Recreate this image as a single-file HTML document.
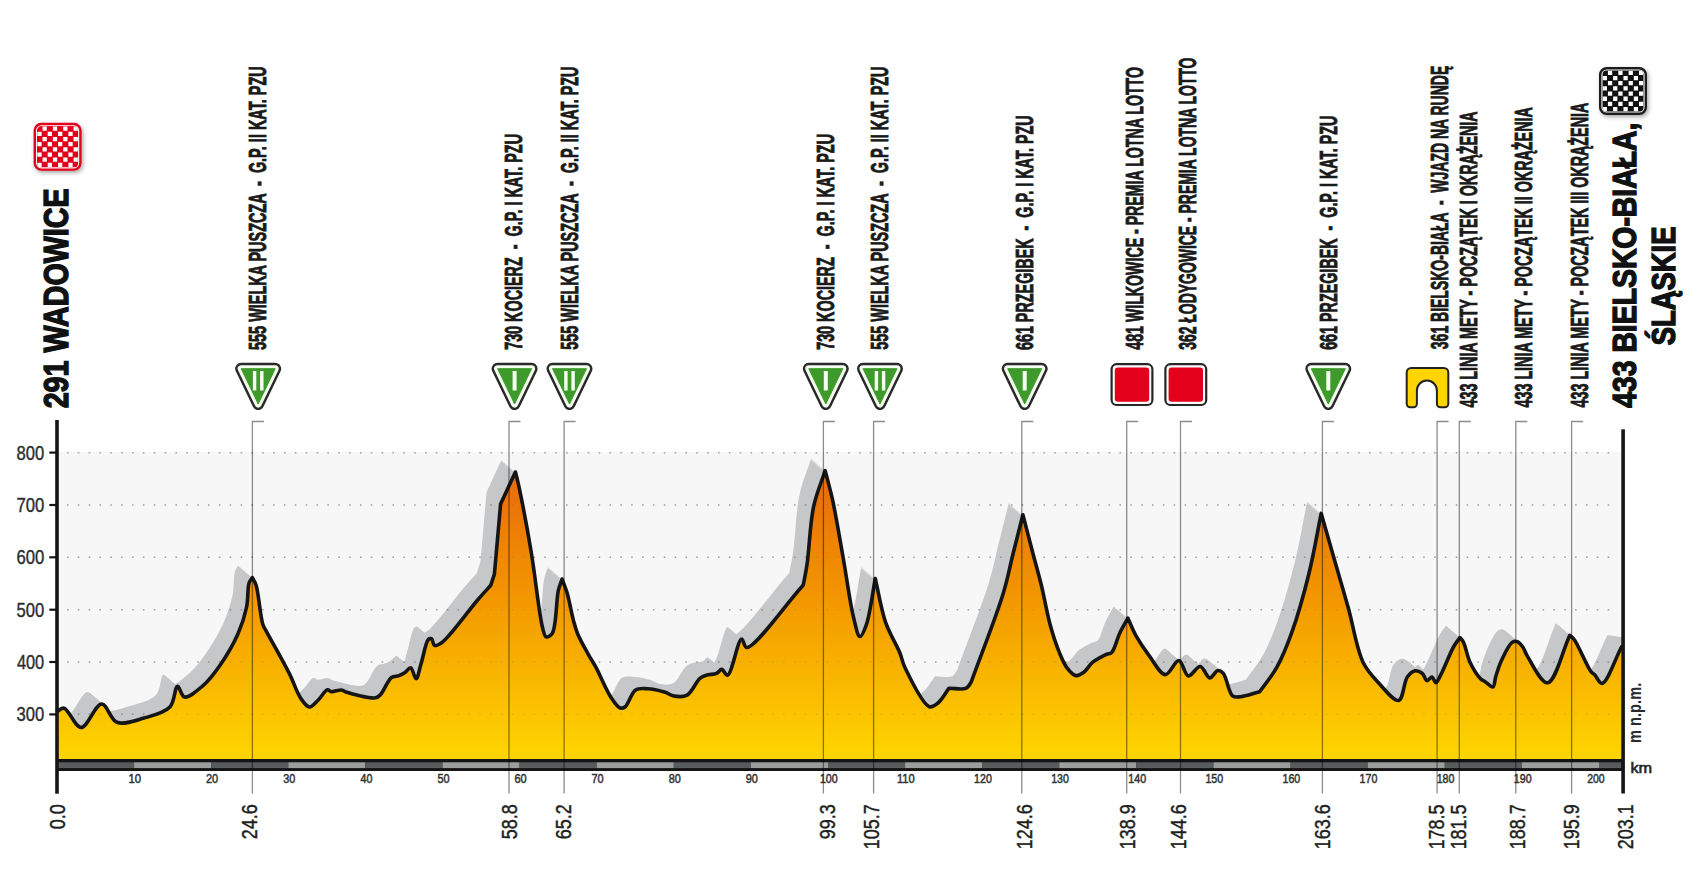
<!DOCTYPE html>
<html><head><meta charset="utf-8"><style>html,body{margin:0;padding:0;background:#fff;width:1702px;height:894px;overflow:hidden}</style></head>
<body>
<svg width="1702" height="894" viewBox="0 0 1702 894" style="position:absolute;left:0;top:0;font-family:'Liberation Sans',sans-serif">
<defs>
<linearGradient id="gfill" gradientUnits="userSpaceOnUse" x1="0" y1="470" x2="0" y2="760">
<stop offset="0" stop-color="#e8680b"/>
<stop offset="0.45" stop-color="#f39800"/>
<stop offset="1" stop-color="#ffd600"/>
</linearGradient>
<clipPath id="chartclip"><rect x="66" y="430" width="1556" height="330"/></clipPath>
<filter id="dsh" x="-30%" y="-30%" width="160%" height="160%"><feDropShadow dx="1.5" dy="2" stdDeviation="2" flood-color="#000" flood-opacity="0.35"/></filter>
</defs>
<rect x="0" y="0" width="1702" height="894" fill="#fff"/>
<rect x="57" y="452.2" width="1565" height="307" fill="#f7f7f7"/>
<defs><path id="prof" d="M57,759 L57.5,711.0 C59.7,710.1 61.6,707.6 64.1,708.2 C68.8,709.3 75.2,727.5 81.1,727.5 C87.6,727.5 95.4,703.9 101.7,704.0 C107.2,704.1 110.3,719.8 117.0,722.3 C124.2,725.0 135.2,720.6 144.0,718.1 C152.9,715.5 164.3,712.9 169.9,707.0 C174.8,701.8 174.7,686.7 177.5,686.4 C179.7,686.2 181.1,696.3 184.5,697.0 C188.9,698.0 197.1,690.7 202.8,685.8 C209.2,680.3 214.9,672.7 220.4,664.7 C226.7,655.6 233.5,643.9 238.0,633.7 C242.0,624.7 244.8,615.7 246.6,607.0 C248.3,599.0 247.4,588.4 249.0,583.3 C249.9,580.6 251.2,579.5 252.3,577.6 C253.6,580.1 254.9,581.6 256.1,585.2 C258.7,593.1 260.2,616.3 262.8,624.2 C264.0,627.8 265.3,629.3 266.6,631.8 C274.2,645.7 283.3,661.4 289.4,673.6 C294.0,682.9 296.7,692.5 300.8,698.4 C303.5,702.3 306.5,706.8 309.4,707.0 C312.2,707.2 315.2,702.9 318.0,700.3 C321.2,697.3 324.9,690.3 327.5,689.8 C328.9,689.5 329.7,691.5 331.3,691.7 C333.9,692.1 339.0,689.6 341.7,690.0 C343.5,690.2 343.9,691.3 346.0,692.0 C351.4,693.8 369.9,698.8 375.5,697.8 C378.0,697.3 378.7,696.4 380.4,694.7 C383.7,691.4 387.6,680.3 391.5,677.5 C393.9,675.8 396.6,676.5 398.9,675.6 C401.1,674.8 403.1,673.9 405.0,672.6 C407.0,671.3 408.9,667.4 410.6,667.7 C412.8,668.1 414.4,678.8 416.1,678.7 C418.0,678.6 419.2,669.5 421.0,664.0 C423.3,656.9 425.6,642.0 428.4,639.4 C429.4,638.5 430.6,638.3 431.5,638.7 C432.9,639.4 432.9,644.8 434.6,645.5 C436.4,646.2 439.5,644.1 442.0,642.4 C445.6,639.9 448.7,635.7 453.0,630.8 C459.7,623.1 470.6,608.3 477.6,600.0 C482.6,594.1 486.4,590.1 490.8,585.2 C492.0,581.5 493.2,577.8 494.4,574.1 C496.5,550.7 498.5,527.4 500.6,504.0 C505.5,493.3 510.5,482.7 515.4,472.0 C516.6,476.9 517.6,480.1 519.0,486.8 C522.0,501.0 527.6,530.4 531.4,553.2 C535.4,577.1 539.0,613.9 542.4,627.0 C543.7,631.9 544.2,636.2 546.1,636.9 C547.7,637.5 550.6,635.8 552.3,633.2 C556.5,626.9 556.1,599.7 558.4,590.1 C559.6,585.1 560.9,582.7 562.1,579.0 C563.7,583.5 565.4,587.2 567.0,592.6 C569.2,600.0 571.2,612.0 573.2,619.6 C574.7,625.2 575.6,628.9 577.7,634.0 C580.3,640.2 584.7,647.9 588.0,653.8 C590.7,658.7 592.8,661.6 595.7,666.9 C600.1,674.9 606.3,690.4 611.2,697.7 C614.3,702.3 617.4,707.1 620.2,708.0 C622.0,708.5 623.6,708.0 625.3,706.7 C628.6,704.2 631.3,692.7 635.6,690.0 C638.9,687.9 642.9,688.5 647.2,688.7 C652.6,688.9 660.5,690.8 665.2,692.3 C668.4,693.3 669.9,695.2 672.9,695.8 C676.8,696.6 682.8,697.4 687.0,695.2 C692.1,692.5 696.0,681.6 699.9,678.4 C702.2,676.5 703.8,676.0 706.3,675.2 C709.3,674.2 713.9,674.5 716.6,673.3 C718.7,672.4 720.0,669.3 721.7,669.4 C723.6,669.5 725.5,675.6 727.5,675.2 C731.9,674.3 737.8,639.3 741.6,639.0 C743.5,638.8 743.8,647.2 746.7,647.5 C755.2,648.3 784.4,605.8 803.3,585.0 C804.6,577.7 805.9,572.2 807.2,563.2 C809.3,548.8 810.0,523.2 813.6,506.6 C816.5,493.1 821.3,482.6 825.2,470.6 C827.8,480.9 830.3,489.5 832.9,501.4 C836.3,517.4 839.8,538.9 843.2,558.0 C846.7,577.5 849.9,603.0 853.5,617.2 C855.6,625.5 857.5,636.3 859.9,636.5 C861.8,636.7 864.4,630.3 866.3,624.9 C870.0,614.8 872.3,594.0 875.3,578.6 C878.7,593.2 881.1,609.2 885.6,622.3 C889.6,633.7 896.6,644.8 900.0,653.2 C902.2,658.7 902.1,661.6 904.8,667.3 C909.6,677.3 922.5,704.5 929.4,706.7 C932.5,707.7 935.2,705.2 938.0,703.0 C941.9,699.9 945.3,693.1 949.0,688.2 C954.8,688.2 962.5,690.0 966.3,688.2 C968.8,687.0 969.6,684.1 971.2,682.1 C981.9,652.6 996.0,617.3 1003.2,593.5 C1008.0,577.9 1009.7,567.1 1013.0,554.0 C1016.3,540.9 1019.6,527.9 1022.9,514.8 C1026.1,527.0 1029.3,539.6 1032.4,551.5 C1035.4,562.9 1038.4,573.3 1041.3,585.0 C1044.4,597.8 1047.0,613.3 1050.3,625.3 C1053.0,635.2 1056.0,644.4 1059.2,652.1 C1061.7,658.1 1063.8,663.7 1067.0,667.8 C1069.6,671.2 1073.0,675.1 1076.0,675.6 C1078.6,676.0 1081.3,674.1 1083.8,672.3 C1087.0,670.0 1089.2,665.1 1092.8,662.2 C1096.7,659.1 1102.9,656.1 1106.4,654.4 C1108.5,653.4 1110.1,654.0 1111.7,652.4 C1114.9,649.3 1116.9,639.0 1119.8,633.0 C1122.4,627.7 1125.2,623.1 1127.9,618.2 C1130.6,624.0 1132.6,629.7 1135.9,635.6 C1139.6,642.2 1144.4,649.3 1149.3,655.8 C1154.2,662.3 1160.2,674.5 1165.4,674.6 C1170.0,674.7 1175.0,660.1 1178.9,660.5 C1182.6,660.9 1184.5,675.2 1188.3,675.9 C1191.8,676.5 1196.7,666.1 1200.3,666.5 C1203.8,666.9 1206.6,677.7 1209.7,677.9 C1212.4,678.1 1215.3,670.9 1217.8,670.5 C1219.7,670.2 1221.5,671.4 1223.2,673.2 C1226.7,676.9 1228.5,693.0 1232.6,696.0 C1234.9,697.7 1237.4,697.0 1240.6,696.7 C1245.6,696.3 1253.3,693.4 1259.7,691.8 C1265.4,683.6 1271.8,676.4 1276.9,667.2 C1282.6,656.9 1287.0,645.9 1291.7,632.7 C1297.8,615.8 1304.0,593.6 1308.9,573.7 C1313.8,553.8 1317.1,533.5 1321.2,513.4 C1325.3,527.7 1329.2,541.4 1333.5,556.4 C1338.2,572.8 1343.4,590.7 1348.3,608.1 C1353.3,625.9 1356.6,649.0 1363.0,662.2 C1367.3,670.9 1372.1,675.8 1377.8,682.0 C1383.9,688.6 1393.8,701.7 1398.7,700.4 C1403.4,699.2 1403.7,682.0 1407.3,677.0 C1409.5,673.9 1412.1,671.4 1414.7,670.9 C1417.1,670.5 1420.1,671.8 1422.1,673.3 C1424.3,674.9 1425.2,680.4 1427.0,680.7 C1428.5,681.0 1430.5,676.7 1432.0,677.0 C1433.5,677.3 1434.6,682.8 1435.9,682.8 C1437.4,682.8 1438.8,678.6 1440.6,675.2 C1444.0,668.8 1449.7,653.8 1453.5,647.0 C1455.8,642.9 1457.8,640.7 1460.0,637.6 C1461.2,639.2 1462.3,640.1 1463.5,642.3 C1465.7,646.5 1467.1,656.1 1470.0,662.3 C1472.8,668.2 1477.4,675.6 1480.5,678.7 C1482.2,680.4 1483.5,680.5 1485.2,681.7 C1487.5,683.2 1491.1,687.6 1492.9,687.0 C1494.8,686.3 1494.6,680.3 1495.8,676.4 C1497.3,671.5 1499.1,665.4 1501.7,660.0 C1504.5,654.1 1508.8,644.5 1512.3,642.3 C1514.0,641.2 1515.9,641.1 1517.5,641.7 C1519.4,642.4 1521.2,644.8 1522.8,647.0 C1524.7,649.6 1525.1,652.6 1527.5,656.4 C1531.7,663.1 1541.2,683.5 1547.5,682.8 C1555.5,682.0 1562.4,651.1 1569.8,635.3 C1571.4,636.9 1572.7,637.5 1574.5,640.0 C1578.7,645.7 1587.1,666.9 1591.0,671.7 C1592.4,673.4 1593.2,673.3 1594.5,674.6 C1596.6,676.7 1599.3,683.7 1602.1,683.4 C1607.5,682.8 1615.0,659.1 1621.5,647.0 L1640,650 L1640,759 Z"/></defs>
<g clip-path="url(#chartclip)" fill="#c6c7c9">
<use href="#prof" transform="translate(-1.00,-0.86)"/>
<use href="#prof" transform="translate(-2.00,-1.71)"/>
<use href="#prof" transform="translate(-3.00,-2.57)"/>
<use href="#prof" transform="translate(-4.00,-3.43)"/>
<use href="#prof" transform="translate(-5.00,-4.29)"/>
<use href="#prof" transform="translate(-6.00,-5.14)"/>
<use href="#prof" transform="translate(-7.00,-6.00)"/>
<use href="#prof" transform="translate(-8.00,-6.86)"/>
<use href="#prof" transform="translate(-9.00,-7.71)"/>
<use href="#prof" transform="translate(-10.00,-8.57)"/>
<use href="#prof" transform="translate(-11.00,-9.43)"/>
<use href="#prof" transform="translate(-12.00,-10.29)"/>
<use href="#prof" transform="translate(-13.00,-11.14)"/>
<use href="#prof" transform="translate(-14.00,-12.00)"/>
</g>
<path d="M67.0,451.9h1.5v1.5h-1.5zM77.8,451.9h1.5v1.5h-1.5zM88.7,451.9h1.5v1.5h-1.5zM99.5,451.9h1.5v1.5h-1.5zM110.4,451.9h1.5v1.5h-1.5zM121.2,451.9h1.5v1.5h-1.5zM132.1,451.9h1.5v1.5h-1.5zM142.9,451.9h1.5v1.5h-1.5zM153.8,451.9h1.5v1.5h-1.5zM164.6,451.9h1.5v1.5h-1.5zM175.5,451.9h1.5v1.5h-1.5zM186.3,451.9h1.5v1.5h-1.5zM197.2,451.9h1.5v1.5h-1.5zM208.0,451.9h1.5v1.5h-1.5zM218.9,451.9h1.5v1.5h-1.5zM229.7,451.9h1.5v1.5h-1.5zM240.6,451.9h1.5v1.5h-1.5zM251.4,451.9h1.5v1.5h-1.5zM262.3,451.9h1.5v1.5h-1.5zM273.1,451.9h1.5v1.5h-1.5zM284.0,451.9h1.5v1.5h-1.5zM294.8,451.9h1.5v1.5h-1.5zM305.7,451.9h1.5v1.5h-1.5zM316.6,451.9h1.5v1.5h-1.5zM327.4,451.9h1.5v1.5h-1.5zM338.3,451.9h1.5v1.5h-1.5zM349.1,451.9h1.5v1.5h-1.5zM360.0,451.9h1.5v1.5h-1.5zM370.8,451.9h1.5v1.5h-1.5zM381.7,451.9h1.5v1.5h-1.5zM392.5,451.9h1.5v1.5h-1.5zM403.4,451.9h1.5v1.5h-1.5zM414.2,451.9h1.5v1.5h-1.5zM425.1,451.9h1.5v1.5h-1.5zM435.9,451.9h1.5v1.5h-1.5zM446.8,451.9h1.5v1.5h-1.5zM457.6,451.9h1.5v1.5h-1.5zM468.5,451.9h1.5v1.5h-1.5zM479.3,451.9h1.5v1.5h-1.5zM490.2,451.9h1.5v1.5h-1.5zM501.0,451.9h1.5v1.5h-1.5zM511.9,451.9h1.5v1.5h-1.5zM522.7,451.9h1.5v1.5h-1.5zM533.6,451.9h1.5v1.5h-1.5zM544.4,451.9h1.5v1.5h-1.5zM555.3,451.9h1.5v1.5h-1.5zM566.1,451.9h1.5v1.5h-1.5zM577.0,451.9h1.5v1.5h-1.5zM587.8,451.9h1.5v1.5h-1.5zM598.7,451.9h1.5v1.5h-1.5zM609.5,451.9h1.5v1.5h-1.5zM620.4,451.9h1.5v1.5h-1.5zM631.2,451.9h1.5v1.5h-1.5zM642.1,451.9h1.5v1.5h-1.5zM652.9,451.9h1.5v1.5h-1.5zM663.8,451.9h1.5v1.5h-1.5zM674.6,451.9h1.5v1.5h-1.5zM685.5,451.9h1.5v1.5h-1.5zM696.3,451.9h1.5v1.5h-1.5zM707.2,451.9h1.5v1.5h-1.5zM718.0,451.9h1.5v1.5h-1.5zM728.9,451.9h1.5v1.5h-1.5zM739.7,451.9h1.5v1.5h-1.5zM750.6,451.9h1.5v1.5h-1.5zM761.4,451.9h1.5v1.5h-1.5zM772.3,451.9h1.5v1.5h-1.5zM783.1,451.9h1.5v1.5h-1.5zM794.0,451.9h1.5v1.5h-1.5zM804.8,451.9h1.5v1.5h-1.5zM815.7,451.9h1.5v1.5h-1.5zM826.5,451.9h1.5v1.5h-1.5zM837.4,451.9h1.5v1.5h-1.5zM848.2,451.9h1.5v1.5h-1.5zM859.1,451.9h1.5v1.5h-1.5zM869.9,451.9h1.5v1.5h-1.5zM880.8,451.9h1.5v1.5h-1.5zM891.6,451.9h1.5v1.5h-1.5zM902.5,451.9h1.5v1.5h-1.5zM913.3,451.9h1.5v1.5h-1.5zM924.2,451.9h1.5v1.5h-1.5zM935.0,451.9h1.5v1.5h-1.5zM945.9,451.9h1.5v1.5h-1.5zM956.7,451.9h1.5v1.5h-1.5zM967.6,451.9h1.5v1.5h-1.5zM978.4,451.9h1.5v1.5h-1.5zM989.3,451.9h1.5v1.5h-1.5zM1000.1,451.9h1.5v1.5h-1.5zM1011.0,451.9h1.5v1.5h-1.5zM1021.8,451.9h1.5v1.5h-1.5zM1032.7,451.9h1.5v1.5h-1.5zM1043.5,451.9h1.5v1.5h-1.5zM1054.4,451.9h1.5v1.5h-1.5zM1065.2,451.9h1.5v1.5h-1.5zM1076.1,451.9h1.5v1.5h-1.5zM1086.9,451.9h1.5v1.5h-1.5zM1097.8,451.9h1.5v1.5h-1.5zM1108.6,451.9h1.5v1.5h-1.5zM1119.5,451.9h1.5v1.5h-1.5zM1130.3,451.9h1.5v1.5h-1.5zM1141.2,451.9h1.5v1.5h-1.5zM1152.0,451.9h1.5v1.5h-1.5zM1162.9,451.9h1.5v1.5h-1.5zM1173.7,451.9h1.5v1.5h-1.5zM1184.6,451.9h1.5v1.5h-1.5zM1195.4,451.9h1.5v1.5h-1.5zM1206.2,451.9h1.5v1.5h-1.5zM1217.1,451.9h1.5v1.5h-1.5zM1227.9,451.9h1.5v1.5h-1.5zM1238.8,451.9h1.5v1.5h-1.5zM1249.6,451.9h1.5v1.5h-1.5zM1260.5,451.9h1.5v1.5h-1.5zM1271.3,451.9h1.5v1.5h-1.5zM1282.2,451.9h1.5v1.5h-1.5zM1293.0,451.9h1.5v1.5h-1.5zM1303.9,451.9h1.5v1.5h-1.5zM1314.7,451.9h1.5v1.5h-1.5zM1325.6,451.9h1.5v1.5h-1.5zM1336.4,451.9h1.5v1.5h-1.5zM1347.3,451.9h1.5v1.5h-1.5zM1358.1,451.9h1.5v1.5h-1.5zM1369.0,451.9h1.5v1.5h-1.5zM1379.8,451.9h1.5v1.5h-1.5zM1390.7,451.9h1.5v1.5h-1.5zM1401.5,451.9h1.5v1.5h-1.5zM1412.4,451.9h1.5v1.5h-1.5zM1423.2,451.9h1.5v1.5h-1.5zM1434.1,451.9h1.5v1.5h-1.5zM1444.9,451.9h1.5v1.5h-1.5zM1455.8,451.9h1.5v1.5h-1.5zM1466.6,451.9h1.5v1.5h-1.5zM1477.5,451.9h1.5v1.5h-1.5zM1488.3,451.9h1.5v1.5h-1.5zM1499.2,451.9h1.5v1.5h-1.5zM1510.0,451.9h1.5v1.5h-1.5zM1520.9,451.9h1.5v1.5h-1.5zM1531.7,451.9h1.5v1.5h-1.5zM1542.6,451.9h1.5v1.5h-1.5zM1553.4,451.9h1.5v1.5h-1.5zM1564.3,451.9h1.5v1.5h-1.5zM1575.1,451.9h1.5v1.5h-1.5zM1586.0,451.9h1.5v1.5h-1.5zM1596.8,451.9h1.5v1.5h-1.5zM1607.7,451.9h1.5v1.5h-1.5zM67.0,504.2h1.5v1.5h-1.5zM77.8,504.2h1.5v1.5h-1.5zM88.7,504.2h1.5v1.5h-1.5zM99.5,504.2h1.5v1.5h-1.5zM110.4,504.2h1.5v1.5h-1.5zM121.2,504.2h1.5v1.5h-1.5zM132.1,504.2h1.5v1.5h-1.5zM142.9,504.2h1.5v1.5h-1.5zM153.8,504.2h1.5v1.5h-1.5zM164.6,504.2h1.5v1.5h-1.5zM175.5,504.2h1.5v1.5h-1.5zM186.3,504.2h1.5v1.5h-1.5zM197.2,504.2h1.5v1.5h-1.5zM208.0,504.2h1.5v1.5h-1.5zM218.9,504.2h1.5v1.5h-1.5zM229.7,504.2h1.5v1.5h-1.5zM240.6,504.2h1.5v1.5h-1.5zM251.4,504.2h1.5v1.5h-1.5zM262.3,504.2h1.5v1.5h-1.5zM273.1,504.2h1.5v1.5h-1.5zM284.0,504.2h1.5v1.5h-1.5zM294.8,504.2h1.5v1.5h-1.5zM305.7,504.2h1.5v1.5h-1.5zM316.6,504.2h1.5v1.5h-1.5zM327.4,504.2h1.5v1.5h-1.5zM338.3,504.2h1.5v1.5h-1.5zM349.1,504.2h1.5v1.5h-1.5zM360.0,504.2h1.5v1.5h-1.5zM370.8,504.2h1.5v1.5h-1.5zM381.7,504.2h1.5v1.5h-1.5zM392.5,504.2h1.5v1.5h-1.5zM403.4,504.2h1.5v1.5h-1.5zM414.2,504.2h1.5v1.5h-1.5zM425.1,504.2h1.5v1.5h-1.5zM435.9,504.2h1.5v1.5h-1.5zM446.8,504.2h1.5v1.5h-1.5zM457.6,504.2h1.5v1.5h-1.5zM468.5,504.2h1.5v1.5h-1.5zM479.3,504.2h1.5v1.5h-1.5zM490.2,504.2h1.5v1.5h-1.5zM501.0,504.2h1.5v1.5h-1.5zM511.9,504.2h1.5v1.5h-1.5zM522.7,504.2h1.5v1.5h-1.5zM533.6,504.2h1.5v1.5h-1.5zM544.4,504.2h1.5v1.5h-1.5zM555.3,504.2h1.5v1.5h-1.5zM566.1,504.2h1.5v1.5h-1.5zM577.0,504.2h1.5v1.5h-1.5zM587.8,504.2h1.5v1.5h-1.5zM598.7,504.2h1.5v1.5h-1.5zM609.5,504.2h1.5v1.5h-1.5zM620.4,504.2h1.5v1.5h-1.5zM631.2,504.2h1.5v1.5h-1.5zM642.1,504.2h1.5v1.5h-1.5zM652.9,504.2h1.5v1.5h-1.5zM663.8,504.2h1.5v1.5h-1.5zM674.6,504.2h1.5v1.5h-1.5zM685.5,504.2h1.5v1.5h-1.5zM696.3,504.2h1.5v1.5h-1.5zM707.2,504.2h1.5v1.5h-1.5zM718.0,504.2h1.5v1.5h-1.5zM728.9,504.2h1.5v1.5h-1.5zM739.7,504.2h1.5v1.5h-1.5zM750.6,504.2h1.5v1.5h-1.5zM761.4,504.2h1.5v1.5h-1.5zM772.3,504.2h1.5v1.5h-1.5zM783.1,504.2h1.5v1.5h-1.5zM794.0,504.2h1.5v1.5h-1.5zM804.8,504.2h1.5v1.5h-1.5zM815.7,504.2h1.5v1.5h-1.5zM826.5,504.2h1.5v1.5h-1.5zM837.4,504.2h1.5v1.5h-1.5zM848.2,504.2h1.5v1.5h-1.5zM859.1,504.2h1.5v1.5h-1.5zM869.9,504.2h1.5v1.5h-1.5zM880.8,504.2h1.5v1.5h-1.5zM891.6,504.2h1.5v1.5h-1.5zM902.5,504.2h1.5v1.5h-1.5zM913.3,504.2h1.5v1.5h-1.5zM924.2,504.2h1.5v1.5h-1.5zM935.0,504.2h1.5v1.5h-1.5zM945.9,504.2h1.5v1.5h-1.5zM956.7,504.2h1.5v1.5h-1.5zM967.6,504.2h1.5v1.5h-1.5zM978.4,504.2h1.5v1.5h-1.5zM989.3,504.2h1.5v1.5h-1.5zM1000.1,504.2h1.5v1.5h-1.5zM1011.0,504.2h1.5v1.5h-1.5zM1021.8,504.2h1.5v1.5h-1.5zM1032.7,504.2h1.5v1.5h-1.5zM1043.5,504.2h1.5v1.5h-1.5zM1054.4,504.2h1.5v1.5h-1.5zM1065.2,504.2h1.5v1.5h-1.5zM1076.1,504.2h1.5v1.5h-1.5zM1086.9,504.2h1.5v1.5h-1.5zM1097.8,504.2h1.5v1.5h-1.5zM1108.6,504.2h1.5v1.5h-1.5zM1119.5,504.2h1.5v1.5h-1.5zM1130.3,504.2h1.5v1.5h-1.5zM1141.2,504.2h1.5v1.5h-1.5zM1152.0,504.2h1.5v1.5h-1.5zM1162.9,504.2h1.5v1.5h-1.5zM1173.7,504.2h1.5v1.5h-1.5zM1184.6,504.2h1.5v1.5h-1.5zM1195.4,504.2h1.5v1.5h-1.5zM1206.2,504.2h1.5v1.5h-1.5zM1217.1,504.2h1.5v1.5h-1.5zM1227.9,504.2h1.5v1.5h-1.5zM1238.8,504.2h1.5v1.5h-1.5zM1249.6,504.2h1.5v1.5h-1.5zM1260.5,504.2h1.5v1.5h-1.5zM1271.3,504.2h1.5v1.5h-1.5zM1282.2,504.2h1.5v1.5h-1.5zM1293.0,504.2h1.5v1.5h-1.5zM1303.9,504.2h1.5v1.5h-1.5zM1314.7,504.2h1.5v1.5h-1.5zM1325.6,504.2h1.5v1.5h-1.5zM1336.4,504.2h1.5v1.5h-1.5zM1347.3,504.2h1.5v1.5h-1.5zM1358.1,504.2h1.5v1.5h-1.5zM1369.0,504.2h1.5v1.5h-1.5zM1379.8,504.2h1.5v1.5h-1.5zM1390.7,504.2h1.5v1.5h-1.5zM1401.5,504.2h1.5v1.5h-1.5zM1412.4,504.2h1.5v1.5h-1.5zM1423.2,504.2h1.5v1.5h-1.5zM1434.1,504.2h1.5v1.5h-1.5zM1444.9,504.2h1.5v1.5h-1.5zM1455.8,504.2h1.5v1.5h-1.5zM1466.6,504.2h1.5v1.5h-1.5zM1477.5,504.2h1.5v1.5h-1.5zM1488.3,504.2h1.5v1.5h-1.5zM1499.2,504.2h1.5v1.5h-1.5zM1510.0,504.2h1.5v1.5h-1.5zM1520.9,504.2h1.5v1.5h-1.5zM1531.7,504.2h1.5v1.5h-1.5zM1542.6,504.2h1.5v1.5h-1.5zM1553.4,504.2h1.5v1.5h-1.5zM1564.3,504.2h1.5v1.5h-1.5zM1575.1,504.2h1.5v1.5h-1.5zM1586.0,504.2h1.5v1.5h-1.5zM1596.8,504.2h1.5v1.5h-1.5zM1607.7,504.2h1.5v1.5h-1.5zM67.0,556.6h1.5v1.5h-1.5zM77.8,556.6h1.5v1.5h-1.5zM88.7,556.6h1.5v1.5h-1.5zM99.5,556.6h1.5v1.5h-1.5zM110.4,556.6h1.5v1.5h-1.5zM121.2,556.6h1.5v1.5h-1.5zM132.1,556.6h1.5v1.5h-1.5zM142.9,556.6h1.5v1.5h-1.5zM153.8,556.6h1.5v1.5h-1.5zM164.6,556.6h1.5v1.5h-1.5zM175.5,556.6h1.5v1.5h-1.5zM186.3,556.6h1.5v1.5h-1.5zM197.2,556.6h1.5v1.5h-1.5zM208.0,556.6h1.5v1.5h-1.5zM218.9,556.6h1.5v1.5h-1.5zM229.7,556.6h1.5v1.5h-1.5zM240.6,556.6h1.5v1.5h-1.5zM251.4,556.6h1.5v1.5h-1.5zM262.3,556.6h1.5v1.5h-1.5zM273.1,556.6h1.5v1.5h-1.5zM284.0,556.6h1.5v1.5h-1.5zM294.8,556.6h1.5v1.5h-1.5zM305.7,556.6h1.5v1.5h-1.5zM316.6,556.6h1.5v1.5h-1.5zM327.4,556.6h1.5v1.5h-1.5zM338.3,556.6h1.5v1.5h-1.5zM349.1,556.6h1.5v1.5h-1.5zM360.0,556.6h1.5v1.5h-1.5zM370.8,556.6h1.5v1.5h-1.5zM381.7,556.6h1.5v1.5h-1.5zM392.5,556.6h1.5v1.5h-1.5zM403.4,556.6h1.5v1.5h-1.5zM414.2,556.6h1.5v1.5h-1.5zM425.1,556.6h1.5v1.5h-1.5zM435.9,556.6h1.5v1.5h-1.5zM446.8,556.6h1.5v1.5h-1.5zM457.6,556.6h1.5v1.5h-1.5zM468.5,556.6h1.5v1.5h-1.5zM479.3,556.6h1.5v1.5h-1.5zM490.2,556.6h1.5v1.5h-1.5zM501.0,556.6h1.5v1.5h-1.5zM511.9,556.6h1.5v1.5h-1.5zM522.7,556.6h1.5v1.5h-1.5zM533.6,556.6h1.5v1.5h-1.5zM544.4,556.6h1.5v1.5h-1.5zM555.3,556.6h1.5v1.5h-1.5zM566.1,556.6h1.5v1.5h-1.5zM577.0,556.6h1.5v1.5h-1.5zM587.8,556.6h1.5v1.5h-1.5zM598.7,556.6h1.5v1.5h-1.5zM609.5,556.6h1.5v1.5h-1.5zM620.4,556.6h1.5v1.5h-1.5zM631.2,556.6h1.5v1.5h-1.5zM642.1,556.6h1.5v1.5h-1.5zM652.9,556.6h1.5v1.5h-1.5zM663.8,556.6h1.5v1.5h-1.5zM674.6,556.6h1.5v1.5h-1.5zM685.5,556.6h1.5v1.5h-1.5zM696.3,556.6h1.5v1.5h-1.5zM707.2,556.6h1.5v1.5h-1.5zM718.0,556.6h1.5v1.5h-1.5zM728.9,556.6h1.5v1.5h-1.5zM739.7,556.6h1.5v1.5h-1.5zM750.6,556.6h1.5v1.5h-1.5zM761.4,556.6h1.5v1.5h-1.5zM772.3,556.6h1.5v1.5h-1.5zM783.1,556.6h1.5v1.5h-1.5zM794.0,556.6h1.5v1.5h-1.5zM804.8,556.6h1.5v1.5h-1.5zM815.7,556.6h1.5v1.5h-1.5zM826.5,556.6h1.5v1.5h-1.5zM837.4,556.6h1.5v1.5h-1.5zM848.2,556.6h1.5v1.5h-1.5zM859.1,556.6h1.5v1.5h-1.5zM869.9,556.6h1.5v1.5h-1.5zM880.8,556.6h1.5v1.5h-1.5zM891.6,556.6h1.5v1.5h-1.5zM902.5,556.6h1.5v1.5h-1.5zM913.3,556.6h1.5v1.5h-1.5zM924.2,556.6h1.5v1.5h-1.5zM935.0,556.6h1.5v1.5h-1.5zM945.9,556.6h1.5v1.5h-1.5zM956.7,556.6h1.5v1.5h-1.5zM967.6,556.6h1.5v1.5h-1.5zM978.4,556.6h1.5v1.5h-1.5zM989.3,556.6h1.5v1.5h-1.5zM1000.1,556.6h1.5v1.5h-1.5zM1011.0,556.6h1.5v1.5h-1.5zM1021.8,556.6h1.5v1.5h-1.5zM1032.7,556.6h1.5v1.5h-1.5zM1043.5,556.6h1.5v1.5h-1.5zM1054.4,556.6h1.5v1.5h-1.5zM1065.2,556.6h1.5v1.5h-1.5zM1076.1,556.6h1.5v1.5h-1.5zM1086.9,556.6h1.5v1.5h-1.5zM1097.8,556.6h1.5v1.5h-1.5zM1108.6,556.6h1.5v1.5h-1.5zM1119.5,556.6h1.5v1.5h-1.5zM1130.3,556.6h1.5v1.5h-1.5zM1141.2,556.6h1.5v1.5h-1.5zM1152.0,556.6h1.5v1.5h-1.5zM1162.9,556.6h1.5v1.5h-1.5zM1173.7,556.6h1.5v1.5h-1.5zM1184.6,556.6h1.5v1.5h-1.5zM1195.4,556.6h1.5v1.5h-1.5zM1206.2,556.6h1.5v1.5h-1.5zM1217.1,556.6h1.5v1.5h-1.5zM1227.9,556.6h1.5v1.5h-1.5zM1238.8,556.6h1.5v1.5h-1.5zM1249.6,556.6h1.5v1.5h-1.5zM1260.5,556.6h1.5v1.5h-1.5zM1271.3,556.6h1.5v1.5h-1.5zM1282.2,556.6h1.5v1.5h-1.5zM1293.0,556.6h1.5v1.5h-1.5zM1303.9,556.6h1.5v1.5h-1.5zM1314.7,556.6h1.5v1.5h-1.5zM1325.6,556.6h1.5v1.5h-1.5zM1336.4,556.6h1.5v1.5h-1.5zM1347.3,556.6h1.5v1.5h-1.5zM1358.1,556.6h1.5v1.5h-1.5zM1369.0,556.6h1.5v1.5h-1.5zM1379.8,556.6h1.5v1.5h-1.5zM1390.7,556.6h1.5v1.5h-1.5zM1401.5,556.6h1.5v1.5h-1.5zM1412.4,556.6h1.5v1.5h-1.5zM1423.2,556.6h1.5v1.5h-1.5zM1434.1,556.6h1.5v1.5h-1.5zM1444.9,556.6h1.5v1.5h-1.5zM1455.8,556.6h1.5v1.5h-1.5zM1466.6,556.6h1.5v1.5h-1.5zM1477.5,556.6h1.5v1.5h-1.5zM1488.3,556.6h1.5v1.5h-1.5zM1499.2,556.6h1.5v1.5h-1.5zM1510.0,556.6h1.5v1.5h-1.5zM1520.9,556.6h1.5v1.5h-1.5zM1531.7,556.6h1.5v1.5h-1.5zM1542.6,556.6h1.5v1.5h-1.5zM1553.4,556.6h1.5v1.5h-1.5zM1564.3,556.6h1.5v1.5h-1.5zM1575.1,556.6h1.5v1.5h-1.5zM1586.0,556.6h1.5v1.5h-1.5zM1596.8,556.6h1.5v1.5h-1.5zM1607.7,556.6h1.5v1.5h-1.5zM67.0,608.9h1.5v1.5h-1.5zM77.8,608.9h1.5v1.5h-1.5zM88.7,608.9h1.5v1.5h-1.5zM99.5,608.9h1.5v1.5h-1.5zM110.4,608.9h1.5v1.5h-1.5zM121.2,608.9h1.5v1.5h-1.5zM132.1,608.9h1.5v1.5h-1.5zM142.9,608.9h1.5v1.5h-1.5zM153.8,608.9h1.5v1.5h-1.5zM164.6,608.9h1.5v1.5h-1.5zM175.5,608.9h1.5v1.5h-1.5zM186.3,608.9h1.5v1.5h-1.5zM197.2,608.9h1.5v1.5h-1.5zM208.0,608.9h1.5v1.5h-1.5zM218.9,608.9h1.5v1.5h-1.5zM229.7,608.9h1.5v1.5h-1.5zM240.6,608.9h1.5v1.5h-1.5zM251.4,608.9h1.5v1.5h-1.5zM262.3,608.9h1.5v1.5h-1.5zM273.1,608.9h1.5v1.5h-1.5zM284.0,608.9h1.5v1.5h-1.5zM294.8,608.9h1.5v1.5h-1.5zM305.7,608.9h1.5v1.5h-1.5zM316.6,608.9h1.5v1.5h-1.5zM327.4,608.9h1.5v1.5h-1.5zM338.3,608.9h1.5v1.5h-1.5zM349.1,608.9h1.5v1.5h-1.5zM360.0,608.9h1.5v1.5h-1.5zM370.8,608.9h1.5v1.5h-1.5zM381.7,608.9h1.5v1.5h-1.5zM392.5,608.9h1.5v1.5h-1.5zM403.4,608.9h1.5v1.5h-1.5zM414.2,608.9h1.5v1.5h-1.5zM425.1,608.9h1.5v1.5h-1.5zM435.9,608.9h1.5v1.5h-1.5zM446.8,608.9h1.5v1.5h-1.5zM457.6,608.9h1.5v1.5h-1.5zM468.5,608.9h1.5v1.5h-1.5zM479.3,608.9h1.5v1.5h-1.5zM490.2,608.9h1.5v1.5h-1.5zM501.0,608.9h1.5v1.5h-1.5zM511.9,608.9h1.5v1.5h-1.5zM522.7,608.9h1.5v1.5h-1.5zM533.6,608.9h1.5v1.5h-1.5zM544.4,608.9h1.5v1.5h-1.5zM555.3,608.9h1.5v1.5h-1.5zM566.1,608.9h1.5v1.5h-1.5zM577.0,608.9h1.5v1.5h-1.5zM587.8,608.9h1.5v1.5h-1.5zM598.7,608.9h1.5v1.5h-1.5zM609.5,608.9h1.5v1.5h-1.5zM620.4,608.9h1.5v1.5h-1.5zM631.2,608.9h1.5v1.5h-1.5zM642.1,608.9h1.5v1.5h-1.5zM652.9,608.9h1.5v1.5h-1.5zM663.8,608.9h1.5v1.5h-1.5zM674.6,608.9h1.5v1.5h-1.5zM685.5,608.9h1.5v1.5h-1.5zM696.3,608.9h1.5v1.5h-1.5zM707.2,608.9h1.5v1.5h-1.5zM718.0,608.9h1.5v1.5h-1.5zM728.9,608.9h1.5v1.5h-1.5zM739.7,608.9h1.5v1.5h-1.5zM750.6,608.9h1.5v1.5h-1.5zM761.4,608.9h1.5v1.5h-1.5zM772.3,608.9h1.5v1.5h-1.5zM783.1,608.9h1.5v1.5h-1.5zM794.0,608.9h1.5v1.5h-1.5zM804.8,608.9h1.5v1.5h-1.5zM815.7,608.9h1.5v1.5h-1.5zM826.5,608.9h1.5v1.5h-1.5zM837.4,608.9h1.5v1.5h-1.5zM848.2,608.9h1.5v1.5h-1.5zM859.1,608.9h1.5v1.5h-1.5zM869.9,608.9h1.5v1.5h-1.5zM880.8,608.9h1.5v1.5h-1.5zM891.6,608.9h1.5v1.5h-1.5zM902.5,608.9h1.5v1.5h-1.5zM913.3,608.9h1.5v1.5h-1.5zM924.2,608.9h1.5v1.5h-1.5zM935.0,608.9h1.5v1.5h-1.5zM945.9,608.9h1.5v1.5h-1.5zM956.7,608.9h1.5v1.5h-1.5zM967.6,608.9h1.5v1.5h-1.5zM978.4,608.9h1.5v1.5h-1.5zM989.3,608.9h1.5v1.5h-1.5zM1000.1,608.9h1.5v1.5h-1.5zM1011.0,608.9h1.5v1.5h-1.5zM1021.8,608.9h1.5v1.5h-1.5zM1032.7,608.9h1.5v1.5h-1.5zM1043.5,608.9h1.5v1.5h-1.5zM1054.4,608.9h1.5v1.5h-1.5zM1065.2,608.9h1.5v1.5h-1.5zM1076.1,608.9h1.5v1.5h-1.5zM1086.9,608.9h1.5v1.5h-1.5zM1097.8,608.9h1.5v1.5h-1.5zM1108.6,608.9h1.5v1.5h-1.5zM1119.5,608.9h1.5v1.5h-1.5zM1130.3,608.9h1.5v1.5h-1.5zM1141.2,608.9h1.5v1.5h-1.5zM1152.0,608.9h1.5v1.5h-1.5zM1162.9,608.9h1.5v1.5h-1.5zM1173.7,608.9h1.5v1.5h-1.5zM1184.6,608.9h1.5v1.5h-1.5zM1195.4,608.9h1.5v1.5h-1.5zM1206.2,608.9h1.5v1.5h-1.5zM1217.1,608.9h1.5v1.5h-1.5zM1227.9,608.9h1.5v1.5h-1.5zM1238.8,608.9h1.5v1.5h-1.5zM1249.6,608.9h1.5v1.5h-1.5zM1260.5,608.9h1.5v1.5h-1.5zM1271.3,608.9h1.5v1.5h-1.5zM1282.2,608.9h1.5v1.5h-1.5zM1293.0,608.9h1.5v1.5h-1.5zM1303.9,608.9h1.5v1.5h-1.5zM1314.7,608.9h1.5v1.5h-1.5zM1325.6,608.9h1.5v1.5h-1.5zM1336.4,608.9h1.5v1.5h-1.5zM1347.3,608.9h1.5v1.5h-1.5zM1358.1,608.9h1.5v1.5h-1.5zM1369.0,608.9h1.5v1.5h-1.5zM1379.8,608.9h1.5v1.5h-1.5zM1390.7,608.9h1.5v1.5h-1.5zM1401.5,608.9h1.5v1.5h-1.5zM1412.4,608.9h1.5v1.5h-1.5zM1423.2,608.9h1.5v1.5h-1.5zM1434.1,608.9h1.5v1.5h-1.5zM1444.9,608.9h1.5v1.5h-1.5zM1455.8,608.9h1.5v1.5h-1.5zM1466.6,608.9h1.5v1.5h-1.5zM1477.5,608.9h1.5v1.5h-1.5zM1488.3,608.9h1.5v1.5h-1.5zM1499.2,608.9h1.5v1.5h-1.5zM1510.0,608.9h1.5v1.5h-1.5zM1520.9,608.9h1.5v1.5h-1.5zM1531.7,608.9h1.5v1.5h-1.5zM1542.6,608.9h1.5v1.5h-1.5zM1553.4,608.9h1.5v1.5h-1.5zM1564.3,608.9h1.5v1.5h-1.5zM1575.1,608.9h1.5v1.5h-1.5zM1586.0,608.9h1.5v1.5h-1.5zM1596.8,608.9h1.5v1.5h-1.5zM1607.7,608.9h1.5v1.5h-1.5zM67.0,661.3h1.5v1.5h-1.5zM77.8,661.3h1.5v1.5h-1.5zM88.7,661.3h1.5v1.5h-1.5zM99.5,661.3h1.5v1.5h-1.5zM110.4,661.3h1.5v1.5h-1.5zM121.2,661.3h1.5v1.5h-1.5zM132.1,661.3h1.5v1.5h-1.5zM142.9,661.3h1.5v1.5h-1.5zM153.8,661.3h1.5v1.5h-1.5zM164.6,661.3h1.5v1.5h-1.5zM175.5,661.3h1.5v1.5h-1.5zM186.3,661.3h1.5v1.5h-1.5zM197.2,661.3h1.5v1.5h-1.5zM208.0,661.3h1.5v1.5h-1.5zM218.9,661.3h1.5v1.5h-1.5zM229.7,661.3h1.5v1.5h-1.5zM240.6,661.3h1.5v1.5h-1.5zM251.4,661.3h1.5v1.5h-1.5zM262.3,661.3h1.5v1.5h-1.5zM273.1,661.3h1.5v1.5h-1.5zM284.0,661.3h1.5v1.5h-1.5zM294.8,661.3h1.5v1.5h-1.5zM305.7,661.3h1.5v1.5h-1.5zM316.6,661.3h1.5v1.5h-1.5zM327.4,661.3h1.5v1.5h-1.5zM338.3,661.3h1.5v1.5h-1.5zM349.1,661.3h1.5v1.5h-1.5zM360.0,661.3h1.5v1.5h-1.5zM370.8,661.3h1.5v1.5h-1.5zM381.7,661.3h1.5v1.5h-1.5zM392.5,661.3h1.5v1.5h-1.5zM403.4,661.3h1.5v1.5h-1.5zM414.2,661.3h1.5v1.5h-1.5zM425.1,661.3h1.5v1.5h-1.5zM435.9,661.3h1.5v1.5h-1.5zM446.8,661.3h1.5v1.5h-1.5zM457.6,661.3h1.5v1.5h-1.5zM468.5,661.3h1.5v1.5h-1.5zM479.3,661.3h1.5v1.5h-1.5zM490.2,661.3h1.5v1.5h-1.5zM501.0,661.3h1.5v1.5h-1.5zM511.9,661.3h1.5v1.5h-1.5zM522.7,661.3h1.5v1.5h-1.5zM533.6,661.3h1.5v1.5h-1.5zM544.4,661.3h1.5v1.5h-1.5zM555.3,661.3h1.5v1.5h-1.5zM566.1,661.3h1.5v1.5h-1.5zM577.0,661.3h1.5v1.5h-1.5zM587.8,661.3h1.5v1.5h-1.5zM598.7,661.3h1.5v1.5h-1.5zM609.5,661.3h1.5v1.5h-1.5zM620.4,661.3h1.5v1.5h-1.5zM631.2,661.3h1.5v1.5h-1.5zM642.1,661.3h1.5v1.5h-1.5zM652.9,661.3h1.5v1.5h-1.5zM663.8,661.3h1.5v1.5h-1.5zM674.6,661.3h1.5v1.5h-1.5zM685.5,661.3h1.5v1.5h-1.5zM696.3,661.3h1.5v1.5h-1.5zM707.2,661.3h1.5v1.5h-1.5zM718.0,661.3h1.5v1.5h-1.5zM728.9,661.3h1.5v1.5h-1.5zM739.7,661.3h1.5v1.5h-1.5zM750.6,661.3h1.5v1.5h-1.5zM761.4,661.3h1.5v1.5h-1.5zM772.3,661.3h1.5v1.5h-1.5zM783.1,661.3h1.5v1.5h-1.5zM794.0,661.3h1.5v1.5h-1.5zM804.8,661.3h1.5v1.5h-1.5zM815.7,661.3h1.5v1.5h-1.5zM826.5,661.3h1.5v1.5h-1.5zM837.4,661.3h1.5v1.5h-1.5zM848.2,661.3h1.5v1.5h-1.5zM859.1,661.3h1.5v1.5h-1.5zM869.9,661.3h1.5v1.5h-1.5zM880.8,661.3h1.5v1.5h-1.5zM891.6,661.3h1.5v1.5h-1.5zM902.5,661.3h1.5v1.5h-1.5zM913.3,661.3h1.5v1.5h-1.5zM924.2,661.3h1.5v1.5h-1.5zM935.0,661.3h1.5v1.5h-1.5zM945.9,661.3h1.5v1.5h-1.5zM956.7,661.3h1.5v1.5h-1.5zM967.6,661.3h1.5v1.5h-1.5zM978.4,661.3h1.5v1.5h-1.5zM989.3,661.3h1.5v1.5h-1.5zM1000.1,661.3h1.5v1.5h-1.5zM1011.0,661.3h1.5v1.5h-1.5zM1021.8,661.3h1.5v1.5h-1.5zM1032.7,661.3h1.5v1.5h-1.5zM1043.5,661.3h1.5v1.5h-1.5zM1054.4,661.3h1.5v1.5h-1.5zM1065.2,661.3h1.5v1.5h-1.5zM1076.1,661.3h1.5v1.5h-1.5zM1086.9,661.3h1.5v1.5h-1.5zM1097.8,661.3h1.5v1.5h-1.5zM1108.6,661.3h1.5v1.5h-1.5zM1119.5,661.3h1.5v1.5h-1.5zM1130.3,661.3h1.5v1.5h-1.5zM1141.2,661.3h1.5v1.5h-1.5zM1152.0,661.3h1.5v1.5h-1.5zM1162.9,661.3h1.5v1.5h-1.5zM1173.7,661.3h1.5v1.5h-1.5zM1184.6,661.3h1.5v1.5h-1.5zM1195.4,661.3h1.5v1.5h-1.5zM1206.2,661.3h1.5v1.5h-1.5zM1217.1,661.3h1.5v1.5h-1.5zM1227.9,661.3h1.5v1.5h-1.5zM1238.8,661.3h1.5v1.5h-1.5zM1249.6,661.3h1.5v1.5h-1.5zM1260.5,661.3h1.5v1.5h-1.5zM1271.3,661.3h1.5v1.5h-1.5zM1282.2,661.3h1.5v1.5h-1.5zM1293.0,661.3h1.5v1.5h-1.5zM1303.9,661.3h1.5v1.5h-1.5zM1314.7,661.3h1.5v1.5h-1.5zM1325.6,661.3h1.5v1.5h-1.5zM1336.4,661.3h1.5v1.5h-1.5zM1347.3,661.3h1.5v1.5h-1.5zM1358.1,661.3h1.5v1.5h-1.5zM1369.0,661.3h1.5v1.5h-1.5zM1379.8,661.3h1.5v1.5h-1.5zM1390.7,661.3h1.5v1.5h-1.5zM1401.5,661.3h1.5v1.5h-1.5zM1412.4,661.3h1.5v1.5h-1.5zM1423.2,661.3h1.5v1.5h-1.5zM1434.1,661.3h1.5v1.5h-1.5zM1444.9,661.3h1.5v1.5h-1.5zM1455.8,661.3h1.5v1.5h-1.5zM1466.6,661.3h1.5v1.5h-1.5zM1477.5,661.3h1.5v1.5h-1.5zM1488.3,661.3h1.5v1.5h-1.5zM1499.2,661.3h1.5v1.5h-1.5zM1510.0,661.3h1.5v1.5h-1.5zM1520.9,661.3h1.5v1.5h-1.5zM1531.7,661.3h1.5v1.5h-1.5zM1542.6,661.3h1.5v1.5h-1.5zM1553.4,661.3h1.5v1.5h-1.5zM1564.3,661.3h1.5v1.5h-1.5zM1575.1,661.3h1.5v1.5h-1.5zM1586.0,661.3h1.5v1.5h-1.5zM1596.8,661.3h1.5v1.5h-1.5zM1607.7,661.3h1.5v1.5h-1.5zM67.0,713.6h1.5v1.5h-1.5zM77.8,713.6h1.5v1.5h-1.5zM88.7,713.6h1.5v1.5h-1.5zM99.5,713.6h1.5v1.5h-1.5zM110.4,713.6h1.5v1.5h-1.5zM121.2,713.6h1.5v1.5h-1.5zM132.1,713.6h1.5v1.5h-1.5zM142.9,713.6h1.5v1.5h-1.5zM153.8,713.6h1.5v1.5h-1.5zM164.6,713.6h1.5v1.5h-1.5zM175.5,713.6h1.5v1.5h-1.5zM186.3,713.6h1.5v1.5h-1.5zM197.2,713.6h1.5v1.5h-1.5zM208.0,713.6h1.5v1.5h-1.5zM218.9,713.6h1.5v1.5h-1.5zM229.7,713.6h1.5v1.5h-1.5zM240.6,713.6h1.5v1.5h-1.5zM251.4,713.6h1.5v1.5h-1.5zM262.3,713.6h1.5v1.5h-1.5zM273.1,713.6h1.5v1.5h-1.5zM284.0,713.6h1.5v1.5h-1.5zM294.8,713.6h1.5v1.5h-1.5zM305.7,713.6h1.5v1.5h-1.5zM316.6,713.6h1.5v1.5h-1.5zM327.4,713.6h1.5v1.5h-1.5zM338.3,713.6h1.5v1.5h-1.5zM349.1,713.6h1.5v1.5h-1.5zM360.0,713.6h1.5v1.5h-1.5zM370.8,713.6h1.5v1.5h-1.5zM381.7,713.6h1.5v1.5h-1.5zM392.5,713.6h1.5v1.5h-1.5zM403.4,713.6h1.5v1.5h-1.5zM414.2,713.6h1.5v1.5h-1.5zM425.1,713.6h1.5v1.5h-1.5zM435.9,713.6h1.5v1.5h-1.5zM446.8,713.6h1.5v1.5h-1.5zM457.6,713.6h1.5v1.5h-1.5zM468.5,713.6h1.5v1.5h-1.5zM479.3,713.6h1.5v1.5h-1.5zM490.2,713.6h1.5v1.5h-1.5zM501.0,713.6h1.5v1.5h-1.5zM511.9,713.6h1.5v1.5h-1.5zM522.7,713.6h1.5v1.5h-1.5zM533.6,713.6h1.5v1.5h-1.5zM544.4,713.6h1.5v1.5h-1.5zM555.3,713.6h1.5v1.5h-1.5zM566.1,713.6h1.5v1.5h-1.5zM577.0,713.6h1.5v1.5h-1.5zM587.8,713.6h1.5v1.5h-1.5zM598.7,713.6h1.5v1.5h-1.5zM609.5,713.6h1.5v1.5h-1.5zM620.4,713.6h1.5v1.5h-1.5zM631.2,713.6h1.5v1.5h-1.5zM642.1,713.6h1.5v1.5h-1.5zM652.9,713.6h1.5v1.5h-1.5zM663.8,713.6h1.5v1.5h-1.5zM674.6,713.6h1.5v1.5h-1.5zM685.5,713.6h1.5v1.5h-1.5zM696.3,713.6h1.5v1.5h-1.5zM707.2,713.6h1.5v1.5h-1.5zM718.0,713.6h1.5v1.5h-1.5zM728.9,713.6h1.5v1.5h-1.5zM739.7,713.6h1.5v1.5h-1.5zM750.6,713.6h1.5v1.5h-1.5zM761.4,713.6h1.5v1.5h-1.5zM772.3,713.6h1.5v1.5h-1.5zM783.1,713.6h1.5v1.5h-1.5zM794.0,713.6h1.5v1.5h-1.5zM804.8,713.6h1.5v1.5h-1.5zM815.7,713.6h1.5v1.5h-1.5zM826.5,713.6h1.5v1.5h-1.5zM837.4,713.6h1.5v1.5h-1.5zM848.2,713.6h1.5v1.5h-1.5zM859.1,713.6h1.5v1.5h-1.5zM869.9,713.6h1.5v1.5h-1.5zM880.8,713.6h1.5v1.5h-1.5zM891.6,713.6h1.5v1.5h-1.5zM902.5,713.6h1.5v1.5h-1.5zM913.3,713.6h1.5v1.5h-1.5zM924.2,713.6h1.5v1.5h-1.5zM935.0,713.6h1.5v1.5h-1.5zM945.9,713.6h1.5v1.5h-1.5zM956.7,713.6h1.5v1.5h-1.5zM967.6,713.6h1.5v1.5h-1.5zM978.4,713.6h1.5v1.5h-1.5zM989.3,713.6h1.5v1.5h-1.5zM1000.1,713.6h1.5v1.5h-1.5zM1011.0,713.6h1.5v1.5h-1.5zM1021.8,713.6h1.5v1.5h-1.5zM1032.7,713.6h1.5v1.5h-1.5zM1043.5,713.6h1.5v1.5h-1.5zM1054.4,713.6h1.5v1.5h-1.5zM1065.2,713.6h1.5v1.5h-1.5zM1076.1,713.6h1.5v1.5h-1.5zM1086.9,713.6h1.5v1.5h-1.5zM1097.8,713.6h1.5v1.5h-1.5zM1108.6,713.6h1.5v1.5h-1.5zM1119.5,713.6h1.5v1.5h-1.5zM1130.3,713.6h1.5v1.5h-1.5zM1141.2,713.6h1.5v1.5h-1.5zM1152.0,713.6h1.5v1.5h-1.5zM1162.9,713.6h1.5v1.5h-1.5zM1173.7,713.6h1.5v1.5h-1.5zM1184.6,713.6h1.5v1.5h-1.5zM1195.4,713.6h1.5v1.5h-1.5zM1206.2,713.6h1.5v1.5h-1.5zM1217.1,713.6h1.5v1.5h-1.5zM1227.9,713.6h1.5v1.5h-1.5zM1238.8,713.6h1.5v1.5h-1.5zM1249.6,713.6h1.5v1.5h-1.5zM1260.5,713.6h1.5v1.5h-1.5zM1271.3,713.6h1.5v1.5h-1.5zM1282.2,713.6h1.5v1.5h-1.5zM1293.0,713.6h1.5v1.5h-1.5zM1303.9,713.6h1.5v1.5h-1.5zM1314.7,713.6h1.5v1.5h-1.5zM1325.6,713.6h1.5v1.5h-1.5zM1336.4,713.6h1.5v1.5h-1.5zM1347.3,713.6h1.5v1.5h-1.5zM1358.1,713.6h1.5v1.5h-1.5zM1369.0,713.6h1.5v1.5h-1.5zM1379.8,713.6h1.5v1.5h-1.5zM1390.7,713.6h1.5v1.5h-1.5zM1401.5,713.6h1.5v1.5h-1.5zM1412.4,713.6h1.5v1.5h-1.5zM1423.2,713.6h1.5v1.5h-1.5zM1434.1,713.6h1.5v1.5h-1.5zM1444.9,713.6h1.5v1.5h-1.5zM1455.8,713.6h1.5v1.5h-1.5zM1466.6,713.6h1.5v1.5h-1.5zM1477.5,713.6h1.5v1.5h-1.5zM1488.3,713.6h1.5v1.5h-1.5zM1499.2,713.6h1.5v1.5h-1.5zM1510.0,713.6h1.5v1.5h-1.5zM1520.9,713.6h1.5v1.5h-1.5zM1531.7,713.6h1.5v1.5h-1.5zM1542.6,713.6h1.5v1.5h-1.5zM1553.4,713.6h1.5v1.5h-1.5zM1564.3,713.6h1.5v1.5h-1.5zM1575.1,713.6h1.5v1.5h-1.5zM1586.0,713.6h1.5v1.5h-1.5zM1596.8,713.6h1.5v1.5h-1.5zM1607.7,713.6h1.5v1.5h-1.5z" fill="#777" fill-opacity="0.55"/>
<path d="M57,759 L57.5,711.0 C59.7,710.1 61.6,707.6 64.1,708.2 C68.8,709.3 75.2,727.5 81.1,727.5 C87.6,727.5 95.4,703.9 101.7,704.0 C107.2,704.1 110.3,719.8 117.0,722.3 C124.2,725.0 135.2,720.6 144.0,718.1 C152.9,715.5 164.3,712.9 169.9,707.0 C174.8,701.8 174.7,686.7 177.5,686.4 C179.7,686.2 181.1,696.3 184.5,697.0 C188.9,698.0 197.1,690.7 202.8,685.8 C209.2,680.3 214.9,672.7 220.4,664.7 C226.7,655.6 233.5,643.9 238.0,633.7 C242.0,624.7 244.8,615.7 246.6,607.0 C248.3,599.0 247.4,588.4 249.0,583.3 C249.9,580.6 251.2,579.5 252.3,577.6 C253.6,580.1 254.9,581.6 256.1,585.2 C258.7,593.1 260.2,616.3 262.8,624.2 C264.0,627.8 265.3,629.3 266.6,631.8 C274.2,645.7 283.3,661.4 289.4,673.6 C294.0,682.9 296.7,692.5 300.8,698.4 C303.5,702.3 306.5,706.8 309.4,707.0 C312.2,707.2 315.2,702.9 318.0,700.3 C321.2,697.3 324.9,690.3 327.5,689.8 C328.9,689.5 329.7,691.5 331.3,691.7 C333.9,692.1 339.0,689.6 341.7,690.0 C343.5,690.2 343.9,691.3 346.0,692.0 C351.4,693.8 369.9,698.8 375.5,697.8 C378.0,697.3 378.7,696.4 380.4,694.7 C383.7,691.4 387.6,680.3 391.5,677.5 C393.9,675.8 396.6,676.5 398.9,675.6 C401.1,674.8 403.1,673.9 405.0,672.6 C407.0,671.3 408.9,667.4 410.6,667.7 C412.8,668.1 414.4,678.8 416.1,678.7 C418.0,678.6 419.2,669.5 421.0,664.0 C423.3,656.9 425.6,642.0 428.4,639.4 C429.4,638.5 430.6,638.3 431.5,638.7 C432.9,639.4 432.9,644.8 434.6,645.5 C436.4,646.2 439.5,644.1 442.0,642.4 C445.6,639.9 448.7,635.7 453.0,630.8 C459.7,623.1 470.6,608.3 477.6,600.0 C482.6,594.1 486.4,590.1 490.8,585.2 C492.0,581.5 493.2,577.8 494.4,574.1 C496.5,550.7 498.5,527.4 500.6,504.0 C505.5,493.3 510.5,482.7 515.4,472.0 C516.6,476.9 517.6,480.1 519.0,486.8 C522.0,501.0 527.6,530.4 531.4,553.2 C535.4,577.1 539.0,613.9 542.4,627.0 C543.7,631.9 544.2,636.2 546.1,636.9 C547.7,637.5 550.6,635.8 552.3,633.2 C556.5,626.9 556.1,599.7 558.4,590.1 C559.6,585.1 560.9,582.7 562.1,579.0 C563.7,583.5 565.4,587.2 567.0,592.6 C569.2,600.0 571.2,612.0 573.2,619.6 C574.7,625.2 575.6,628.9 577.7,634.0 C580.3,640.2 584.7,647.9 588.0,653.8 C590.7,658.7 592.8,661.6 595.7,666.9 C600.1,674.9 606.3,690.4 611.2,697.7 C614.3,702.3 617.4,707.1 620.2,708.0 C622.0,708.5 623.6,708.0 625.3,706.7 C628.6,704.2 631.3,692.7 635.6,690.0 C638.9,687.9 642.9,688.5 647.2,688.7 C652.6,688.9 660.5,690.8 665.2,692.3 C668.4,693.3 669.9,695.2 672.9,695.8 C676.8,696.6 682.8,697.4 687.0,695.2 C692.1,692.5 696.0,681.6 699.9,678.4 C702.2,676.5 703.8,676.0 706.3,675.2 C709.3,674.2 713.9,674.5 716.6,673.3 C718.7,672.4 720.0,669.3 721.7,669.4 C723.6,669.5 725.5,675.6 727.5,675.2 C731.9,674.3 737.8,639.3 741.6,639.0 C743.5,638.8 743.8,647.2 746.7,647.5 C755.2,648.3 784.4,605.8 803.3,585.0 C804.6,577.7 805.9,572.2 807.2,563.2 C809.3,548.8 810.0,523.2 813.6,506.6 C816.5,493.1 821.3,482.6 825.2,470.6 C827.8,480.9 830.3,489.5 832.9,501.4 C836.3,517.4 839.8,538.9 843.2,558.0 C846.7,577.5 849.9,603.0 853.5,617.2 C855.6,625.5 857.5,636.3 859.9,636.5 C861.8,636.7 864.4,630.3 866.3,624.9 C870.0,614.8 872.3,594.0 875.3,578.6 C878.7,593.2 881.1,609.2 885.6,622.3 C889.6,633.7 896.6,644.8 900.0,653.2 C902.2,658.7 902.1,661.6 904.8,667.3 C909.6,677.3 922.5,704.5 929.4,706.7 C932.5,707.7 935.2,705.2 938.0,703.0 C941.9,699.9 945.3,693.1 949.0,688.2 C954.8,688.2 962.5,690.0 966.3,688.2 C968.8,687.0 969.6,684.1 971.2,682.1 C981.9,652.6 996.0,617.3 1003.2,593.5 C1008.0,577.9 1009.7,567.1 1013.0,554.0 C1016.3,540.9 1019.6,527.9 1022.9,514.8 C1026.1,527.0 1029.3,539.6 1032.4,551.5 C1035.4,562.9 1038.4,573.3 1041.3,585.0 C1044.4,597.8 1047.0,613.3 1050.3,625.3 C1053.0,635.2 1056.0,644.4 1059.2,652.1 C1061.7,658.1 1063.8,663.7 1067.0,667.8 C1069.6,671.2 1073.0,675.1 1076.0,675.6 C1078.6,676.0 1081.3,674.1 1083.8,672.3 C1087.0,670.0 1089.2,665.1 1092.8,662.2 C1096.7,659.1 1102.9,656.1 1106.4,654.4 C1108.5,653.4 1110.1,654.0 1111.7,652.4 C1114.9,649.3 1116.9,639.0 1119.8,633.0 C1122.4,627.7 1125.2,623.1 1127.9,618.2 C1130.6,624.0 1132.6,629.7 1135.9,635.6 C1139.6,642.2 1144.4,649.3 1149.3,655.8 C1154.2,662.3 1160.2,674.5 1165.4,674.6 C1170.0,674.7 1175.0,660.1 1178.9,660.5 C1182.6,660.9 1184.5,675.2 1188.3,675.9 C1191.8,676.5 1196.7,666.1 1200.3,666.5 C1203.8,666.9 1206.6,677.7 1209.7,677.9 C1212.4,678.1 1215.3,670.9 1217.8,670.5 C1219.7,670.2 1221.5,671.4 1223.2,673.2 C1226.7,676.9 1228.5,693.0 1232.6,696.0 C1234.9,697.7 1237.4,697.0 1240.6,696.7 C1245.6,696.3 1253.3,693.4 1259.7,691.8 C1265.4,683.6 1271.8,676.4 1276.9,667.2 C1282.6,656.9 1287.0,645.9 1291.7,632.7 C1297.8,615.8 1304.0,593.6 1308.9,573.7 C1313.8,553.8 1317.1,533.5 1321.2,513.4 C1325.3,527.7 1329.2,541.4 1333.5,556.4 C1338.2,572.8 1343.4,590.7 1348.3,608.1 C1353.3,625.9 1356.6,649.0 1363.0,662.2 C1367.3,670.9 1372.1,675.8 1377.8,682.0 C1383.9,688.6 1393.8,701.7 1398.7,700.4 C1403.4,699.2 1403.7,682.0 1407.3,677.0 C1409.5,673.9 1412.1,671.4 1414.7,670.9 C1417.1,670.5 1420.1,671.8 1422.1,673.3 C1424.3,674.9 1425.2,680.4 1427.0,680.7 C1428.5,681.0 1430.5,676.7 1432.0,677.0 C1433.5,677.3 1434.6,682.8 1435.9,682.8 C1437.4,682.8 1438.8,678.6 1440.6,675.2 C1444.0,668.8 1449.7,653.8 1453.5,647.0 C1455.8,642.9 1457.8,640.7 1460.0,637.6 C1461.2,639.2 1462.3,640.1 1463.5,642.3 C1465.7,646.5 1467.1,656.1 1470.0,662.3 C1472.8,668.2 1477.4,675.6 1480.5,678.7 C1482.2,680.4 1483.5,680.5 1485.2,681.7 C1487.5,683.2 1491.1,687.6 1492.9,687.0 C1494.8,686.3 1494.6,680.3 1495.8,676.4 C1497.3,671.5 1499.1,665.4 1501.7,660.0 C1504.5,654.1 1508.8,644.5 1512.3,642.3 C1514.0,641.2 1515.9,641.1 1517.5,641.7 C1519.4,642.4 1521.2,644.8 1522.8,647.0 C1524.7,649.6 1525.1,652.6 1527.5,656.4 C1531.7,663.1 1541.2,683.5 1547.5,682.8 C1555.5,682.0 1562.4,651.1 1569.8,635.3 C1571.4,636.9 1572.7,637.5 1574.5,640.0 C1578.7,645.7 1587.1,666.9 1591.0,671.7 C1592.4,673.4 1593.2,673.3 1594.5,674.6 C1596.6,676.7 1599.3,683.7 1602.1,683.4 C1607.5,682.8 1615.0,659.1 1621.5,647.0 L1622,759 Z" fill="url(#gfill)"/>
<path d="M67.0,451.9h1.5v1.5h-1.5zM77.8,451.9h1.5v1.5h-1.5zM88.7,451.9h1.5v1.5h-1.5zM99.5,451.9h1.5v1.5h-1.5zM110.4,451.9h1.5v1.5h-1.5zM121.2,451.9h1.5v1.5h-1.5zM132.1,451.9h1.5v1.5h-1.5zM142.9,451.9h1.5v1.5h-1.5zM153.8,451.9h1.5v1.5h-1.5zM164.6,451.9h1.5v1.5h-1.5zM175.5,451.9h1.5v1.5h-1.5zM186.3,451.9h1.5v1.5h-1.5zM197.2,451.9h1.5v1.5h-1.5zM208.0,451.9h1.5v1.5h-1.5zM218.9,451.9h1.5v1.5h-1.5zM229.7,451.9h1.5v1.5h-1.5zM240.6,451.9h1.5v1.5h-1.5zM251.4,451.9h1.5v1.5h-1.5zM262.3,451.9h1.5v1.5h-1.5zM273.1,451.9h1.5v1.5h-1.5zM284.0,451.9h1.5v1.5h-1.5zM294.8,451.9h1.5v1.5h-1.5zM305.7,451.9h1.5v1.5h-1.5zM316.6,451.9h1.5v1.5h-1.5zM327.4,451.9h1.5v1.5h-1.5zM338.3,451.9h1.5v1.5h-1.5zM349.1,451.9h1.5v1.5h-1.5zM360.0,451.9h1.5v1.5h-1.5zM370.8,451.9h1.5v1.5h-1.5zM381.7,451.9h1.5v1.5h-1.5zM392.5,451.9h1.5v1.5h-1.5zM403.4,451.9h1.5v1.5h-1.5zM414.2,451.9h1.5v1.5h-1.5zM425.1,451.9h1.5v1.5h-1.5zM435.9,451.9h1.5v1.5h-1.5zM446.8,451.9h1.5v1.5h-1.5zM457.6,451.9h1.5v1.5h-1.5zM468.5,451.9h1.5v1.5h-1.5zM479.3,451.9h1.5v1.5h-1.5zM490.2,451.9h1.5v1.5h-1.5zM501.0,451.9h1.5v1.5h-1.5zM511.9,451.9h1.5v1.5h-1.5zM522.7,451.9h1.5v1.5h-1.5zM533.6,451.9h1.5v1.5h-1.5zM544.4,451.9h1.5v1.5h-1.5zM555.3,451.9h1.5v1.5h-1.5zM566.1,451.9h1.5v1.5h-1.5zM577.0,451.9h1.5v1.5h-1.5zM587.8,451.9h1.5v1.5h-1.5zM598.7,451.9h1.5v1.5h-1.5zM609.5,451.9h1.5v1.5h-1.5zM620.4,451.9h1.5v1.5h-1.5zM631.2,451.9h1.5v1.5h-1.5zM642.1,451.9h1.5v1.5h-1.5zM652.9,451.9h1.5v1.5h-1.5zM663.8,451.9h1.5v1.5h-1.5zM674.6,451.9h1.5v1.5h-1.5zM685.5,451.9h1.5v1.5h-1.5zM696.3,451.9h1.5v1.5h-1.5zM707.2,451.9h1.5v1.5h-1.5zM718.0,451.9h1.5v1.5h-1.5zM728.9,451.9h1.5v1.5h-1.5zM739.7,451.9h1.5v1.5h-1.5zM750.6,451.9h1.5v1.5h-1.5zM761.4,451.9h1.5v1.5h-1.5zM772.3,451.9h1.5v1.5h-1.5zM783.1,451.9h1.5v1.5h-1.5zM794.0,451.9h1.5v1.5h-1.5zM804.8,451.9h1.5v1.5h-1.5zM815.7,451.9h1.5v1.5h-1.5zM826.5,451.9h1.5v1.5h-1.5zM837.4,451.9h1.5v1.5h-1.5zM848.2,451.9h1.5v1.5h-1.5zM859.1,451.9h1.5v1.5h-1.5zM869.9,451.9h1.5v1.5h-1.5zM880.8,451.9h1.5v1.5h-1.5zM891.6,451.9h1.5v1.5h-1.5zM902.5,451.9h1.5v1.5h-1.5zM913.3,451.9h1.5v1.5h-1.5zM924.2,451.9h1.5v1.5h-1.5zM935.0,451.9h1.5v1.5h-1.5zM945.9,451.9h1.5v1.5h-1.5zM956.7,451.9h1.5v1.5h-1.5zM967.6,451.9h1.5v1.5h-1.5zM978.4,451.9h1.5v1.5h-1.5zM989.3,451.9h1.5v1.5h-1.5zM1000.1,451.9h1.5v1.5h-1.5zM1011.0,451.9h1.5v1.5h-1.5zM1021.8,451.9h1.5v1.5h-1.5zM1032.7,451.9h1.5v1.5h-1.5zM1043.5,451.9h1.5v1.5h-1.5zM1054.4,451.9h1.5v1.5h-1.5zM1065.2,451.9h1.5v1.5h-1.5zM1076.1,451.9h1.5v1.5h-1.5zM1086.9,451.9h1.5v1.5h-1.5zM1097.8,451.9h1.5v1.5h-1.5zM1108.6,451.9h1.5v1.5h-1.5zM1119.5,451.9h1.5v1.5h-1.5zM1130.3,451.9h1.5v1.5h-1.5zM1141.2,451.9h1.5v1.5h-1.5zM1152.0,451.9h1.5v1.5h-1.5zM1162.9,451.9h1.5v1.5h-1.5zM1173.7,451.9h1.5v1.5h-1.5zM1184.6,451.9h1.5v1.5h-1.5zM1195.4,451.9h1.5v1.5h-1.5zM1206.2,451.9h1.5v1.5h-1.5zM1217.1,451.9h1.5v1.5h-1.5zM1227.9,451.9h1.5v1.5h-1.5zM1238.8,451.9h1.5v1.5h-1.5zM1249.6,451.9h1.5v1.5h-1.5zM1260.5,451.9h1.5v1.5h-1.5zM1271.3,451.9h1.5v1.5h-1.5zM1282.2,451.9h1.5v1.5h-1.5zM1293.0,451.9h1.5v1.5h-1.5zM1303.9,451.9h1.5v1.5h-1.5zM1314.7,451.9h1.5v1.5h-1.5zM1325.6,451.9h1.5v1.5h-1.5zM1336.4,451.9h1.5v1.5h-1.5zM1347.3,451.9h1.5v1.5h-1.5zM1358.1,451.9h1.5v1.5h-1.5zM1369.0,451.9h1.5v1.5h-1.5zM1379.8,451.9h1.5v1.5h-1.5zM1390.7,451.9h1.5v1.5h-1.5zM1401.5,451.9h1.5v1.5h-1.5zM1412.4,451.9h1.5v1.5h-1.5zM1423.2,451.9h1.5v1.5h-1.5zM1434.1,451.9h1.5v1.5h-1.5zM1444.9,451.9h1.5v1.5h-1.5zM1455.8,451.9h1.5v1.5h-1.5zM1466.6,451.9h1.5v1.5h-1.5zM1477.5,451.9h1.5v1.5h-1.5zM1488.3,451.9h1.5v1.5h-1.5zM1499.2,451.9h1.5v1.5h-1.5zM1510.0,451.9h1.5v1.5h-1.5zM1520.9,451.9h1.5v1.5h-1.5zM1531.7,451.9h1.5v1.5h-1.5zM1542.6,451.9h1.5v1.5h-1.5zM1553.4,451.9h1.5v1.5h-1.5zM1564.3,451.9h1.5v1.5h-1.5zM1575.1,451.9h1.5v1.5h-1.5zM1586.0,451.9h1.5v1.5h-1.5zM1596.8,451.9h1.5v1.5h-1.5zM1607.7,451.9h1.5v1.5h-1.5zM67.0,504.2h1.5v1.5h-1.5zM77.8,504.2h1.5v1.5h-1.5zM88.7,504.2h1.5v1.5h-1.5zM99.5,504.2h1.5v1.5h-1.5zM110.4,504.2h1.5v1.5h-1.5zM121.2,504.2h1.5v1.5h-1.5zM132.1,504.2h1.5v1.5h-1.5zM142.9,504.2h1.5v1.5h-1.5zM153.8,504.2h1.5v1.5h-1.5zM164.6,504.2h1.5v1.5h-1.5zM175.5,504.2h1.5v1.5h-1.5zM186.3,504.2h1.5v1.5h-1.5zM197.2,504.2h1.5v1.5h-1.5zM208.0,504.2h1.5v1.5h-1.5zM218.9,504.2h1.5v1.5h-1.5zM229.7,504.2h1.5v1.5h-1.5zM240.6,504.2h1.5v1.5h-1.5zM251.4,504.2h1.5v1.5h-1.5zM262.3,504.2h1.5v1.5h-1.5zM273.1,504.2h1.5v1.5h-1.5zM284.0,504.2h1.5v1.5h-1.5zM294.8,504.2h1.5v1.5h-1.5zM305.7,504.2h1.5v1.5h-1.5zM316.6,504.2h1.5v1.5h-1.5zM327.4,504.2h1.5v1.5h-1.5zM338.3,504.2h1.5v1.5h-1.5zM349.1,504.2h1.5v1.5h-1.5zM360.0,504.2h1.5v1.5h-1.5zM370.8,504.2h1.5v1.5h-1.5zM381.7,504.2h1.5v1.5h-1.5zM392.5,504.2h1.5v1.5h-1.5zM403.4,504.2h1.5v1.5h-1.5zM414.2,504.2h1.5v1.5h-1.5zM425.1,504.2h1.5v1.5h-1.5zM435.9,504.2h1.5v1.5h-1.5zM446.8,504.2h1.5v1.5h-1.5zM457.6,504.2h1.5v1.5h-1.5zM468.5,504.2h1.5v1.5h-1.5zM479.3,504.2h1.5v1.5h-1.5zM490.2,504.2h1.5v1.5h-1.5zM501.0,504.2h1.5v1.5h-1.5zM511.9,504.2h1.5v1.5h-1.5zM522.7,504.2h1.5v1.5h-1.5zM533.6,504.2h1.5v1.5h-1.5zM544.4,504.2h1.5v1.5h-1.5zM555.3,504.2h1.5v1.5h-1.5zM566.1,504.2h1.5v1.5h-1.5zM577.0,504.2h1.5v1.5h-1.5zM587.8,504.2h1.5v1.5h-1.5zM598.7,504.2h1.5v1.5h-1.5zM609.5,504.2h1.5v1.5h-1.5zM620.4,504.2h1.5v1.5h-1.5zM631.2,504.2h1.5v1.5h-1.5zM642.1,504.2h1.5v1.5h-1.5zM652.9,504.2h1.5v1.5h-1.5zM663.8,504.2h1.5v1.5h-1.5zM674.6,504.2h1.5v1.5h-1.5zM685.5,504.2h1.5v1.5h-1.5zM696.3,504.2h1.5v1.5h-1.5zM707.2,504.2h1.5v1.5h-1.5zM718.0,504.2h1.5v1.5h-1.5zM728.9,504.2h1.5v1.5h-1.5zM739.7,504.2h1.5v1.5h-1.5zM750.6,504.2h1.5v1.5h-1.5zM761.4,504.2h1.5v1.5h-1.5zM772.3,504.2h1.5v1.5h-1.5zM783.1,504.2h1.5v1.5h-1.5zM794.0,504.2h1.5v1.5h-1.5zM804.8,504.2h1.5v1.5h-1.5zM815.7,504.2h1.5v1.5h-1.5zM826.5,504.2h1.5v1.5h-1.5zM837.4,504.2h1.5v1.5h-1.5zM848.2,504.2h1.5v1.5h-1.5zM859.1,504.2h1.5v1.5h-1.5zM869.9,504.2h1.5v1.5h-1.5zM880.8,504.2h1.5v1.5h-1.5zM891.6,504.2h1.5v1.5h-1.5zM902.5,504.2h1.5v1.5h-1.5zM913.3,504.2h1.5v1.5h-1.5zM924.2,504.2h1.5v1.5h-1.5zM935.0,504.2h1.5v1.5h-1.5zM945.9,504.2h1.5v1.5h-1.5zM956.7,504.2h1.5v1.5h-1.5zM967.6,504.2h1.5v1.5h-1.5zM978.4,504.2h1.5v1.5h-1.5zM989.3,504.2h1.5v1.5h-1.5zM1000.1,504.2h1.5v1.5h-1.5zM1011.0,504.2h1.5v1.5h-1.5zM1021.8,504.2h1.5v1.5h-1.5zM1032.7,504.2h1.5v1.5h-1.5zM1043.5,504.2h1.5v1.5h-1.5zM1054.4,504.2h1.5v1.5h-1.5zM1065.2,504.2h1.5v1.5h-1.5zM1076.1,504.2h1.5v1.5h-1.5zM1086.9,504.2h1.5v1.5h-1.5zM1097.8,504.2h1.5v1.5h-1.5zM1108.6,504.2h1.5v1.5h-1.5zM1119.5,504.2h1.5v1.5h-1.5zM1130.3,504.2h1.5v1.5h-1.5zM1141.2,504.2h1.5v1.5h-1.5zM1152.0,504.2h1.5v1.5h-1.5zM1162.9,504.2h1.5v1.5h-1.5zM1173.7,504.2h1.5v1.5h-1.5zM1184.6,504.2h1.5v1.5h-1.5zM1195.4,504.2h1.5v1.5h-1.5zM1206.2,504.2h1.5v1.5h-1.5zM1217.1,504.2h1.5v1.5h-1.5zM1227.9,504.2h1.5v1.5h-1.5zM1238.8,504.2h1.5v1.5h-1.5zM1249.6,504.2h1.5v1.5h-1.5zM1260.5,504.2h1.5v1.5h-1.5zM1271.3,504.2h1.5v1.5h-1.5zM1282.2,504.2h1.5v1.5h-1.5zM1293.0,504.2h1.5v1.5h-1.5zM1303.9,504.2h1.5v1.5h-1.5zM1314.7,504.2h1.5v1.5h-1.5zM1325.6,504.2h1.5v1.5h-1.5zM1336.4,504.2h1.5v1.5h-1.5zM1347.3,504.2h1.5v1.5h-1.5zM1358.1,504.2h1.5v1.5h-1.5zM1369.0,504.2h1.5v1.5h-1.5zM1379.8,504.2h1.5v1.5h-1.5zM1390.7,504.2h1.5v1.5h-1.5zM1401.5,504.2h1.5v1.5h-1.5zM1412.4,504.2h1.5v1.5h-1.5zM1423.2,504.2h1.5v1.5h-1.5zM1434.1,504.2h1.5v1.5h-1.5zM1444.9,504.2h1.5v1.5h-1.5zM1455.8,504.2h1.5v1.5h-1.5zM1466.6,504.2h1.5v1.5h-1.5zM1477.5,504.2h1.5v1.5h-1.5zM1488.3,504.2h1.5v1.5h-1.5zM1499.2,504.2h1.5v1.5h-1.5zM1510.0,504.2h1.5v1.5h-1.5zM1520.9,504.2h1.5v1.5h-1.5zM1531.7,504.2h1.5v1.5h-1.5zM1542.6,504.2h1.5v1.5h-1.5zM1553.4,504.2h1.5v1.5h-1.5zM1564.3,504.2h1.5v1.5h-1.5zM1575.1,504.2h1.5v1.5h-1.5zM1586.0,504.2h1.5v1.5h-1.5zM1596.8,504.2h1.5v1.5h-1.5zM1607.7,504.2h1.5v1.5h-1.5zM67.0,556.6h1.5v1.5h-1.5zM77.8,556.6h1.5v1.5h-1.5zM88.7,556.6h1.5v1.5h-1.5zM99.5,556.6h1.5v1.5h-1.5zM110.4,556.6h1.5v1.5h-1.5zM121.2,556.6h1.5v1.5h-1.5zM132.1,556.6h1.5v1.5h-1.5zM142.9,556.6h1.5v1.5h-1.5zM153.8,556.6h1.5v1.5h-1.5zM164.6,556.6h1.5v1.5h-1.5zM175.5,556.6h1.5v1.5h-1.5zM186.3,556.6h1.5v1.5h-1.5zM197.2,556.6h1.5v1.5h-1.5zM208.0,556.6h1.5v1.5h-1.5zM218.9,556.6h1.5v1.5h-1.5zM229.7,556.6h1.5v1.5h-1.5zM240.6,556.6h1.5v1.5h-1.5zM251.4,556.6h1.5v1.5h-1.5zM262.3,556.6h1.5v1.5h-1.5zM273.1,556.6h1.5v1.5h-1.5zM284.0,556.6h1.5v1.5h-1.5zM294.8,556.6h1.5v1.5h-1.5zM305.7,556.6h1.5v1.5h-1.5zM316.6,556.6h1.5v1.5h-1.5zM327.4,556.6h1.5v1.5h-1.5zM338.3,556.6h1.5v1.5h-1.5zM349.1,556.6h1.5v1.5h-1.5zM360.0,556.6h1.5v1.5h-1.5zM370.8,556.6h1.5v1.5h-1.5zM381.7,556.6h1.5v1.5h-1.5zM392.5,556.6h1.5v1.5h-1.5zM403.4,556.6h1.5v1.5h-1.5zM414.2,556.6h1.5v1.5h-1.5zM425.1,556.6h1.5v1.5h-1.5zM435.9,556.6h1.5v1.5h-1.5zM446.8,556.6h1.5v1.5h-1.5zM457.6,556.6h1.5v1.5h-1.5zM468.5,556.6h1.5v1.5h-1.5zM479.3,556.6h1.5v1.5h-1.5zM490.2,556.6h1.5v1.5h-1.5zM501.0,556.6h1.5v1.5h-1.5zM511.9,556.6h1.5v1.5h-1.5zM522.7,556.6h1.5v1.5h-1.5zM533.6,556.6h1.5v1.5h-1.5zM544.4,556.6h1.5v1.5h-1.5zM555.3,556.6h1.5v1.5h-1.5zM566.1,556.6h1.5v1.5h-1.5zM577.0,556.6h1.5v1.5h-1.5zM587.8,556.6h1.5v1.5h-1.5zM598.7,556.6h1.5v1.5h-1.5zM609.5,556.6h1.5v1.5h-1.5zM620.4,556.6h1.5v1.5h-1.5zM631.2,556.6h1.5v1.5h-1.5zM642.1,556.6h1.5v1.5h-1.5zM652.9,556.6h1.5v1.5h-1.5zM663.8,556.6h1.5v1.5h-1.5zM674.6,556.6h1.5v1.5h-1.5zM685.5,556.6h1.5v1.5h-1.5zM696.3,556.6h1.5v1.5h-1.5zM707.2,556.6h1.5v1.5h-1.5zM718.0,556.6h1.5v1.5h-1.5zM728.9,556.6h1.5v1.5h-1.5zM739.7,556.6h1.5v1.5h-1.5zM750.6,556.6h1.5v1.5h-1.5zM761.4,556.6h1.5v1.5h-1.5zM772.3,556.6h1.5v1.5h-1.5zM783.1,556.6h1.5v1.5h-1.5zM794.0,556.6h1.5v1.5h-1.5zM804.8,556.6h1.5v1.5h-1.5zM815.7,556.6h1.5v1.5h-1.5zM826.5,556.6h1.5v1.5h-1.5zM837.4,556.6h1.5v1.5h-1.5zM848.2,556.6h1.5v1.5h-1.5zM859.1,556.6h1.5v1.5h-1.5zM869.9,556.6h1.5v1.5h-1.5zM880.8,556.6h1.5v1.5h-1.5zM891.6,556.6h1.5v1.5h-1.5zM902.5,556.6h1.5v1.5h-1.5zM913.3,556.6h1.5v1.5h-1.5zM924.2,556.6h1.5v1.5h-1.5zM935.0,556.6h1.5v1.5h-1.5zM945.9,556.6h1.5v1.5h-1.5zM956.7,556.6h1.5v1.5h-1.5zM967.6,556.6h1.5v1.5h-1.5zM978.4,556.6h1.5v1.5h-1.5zM989.3,556.6h1.5v1.5h-1.5zM1000.1,556.6h1.5v1.5h-1.5zM1011.0,556.6h1.5v1.5h-1.5zM1021.8,556.6h1.5v1.5h-1.5zM1032.7,556.6h1.5v1.5h-1.5zM1043.5,556.6h1.5v1.5h-1.5zM1054.4,556.6h1.5v1.5h-1.5zM1065.2,556.6h1.5v1.5h-1.5zM1076.1,556.6h1.5v1.5h-1.5zM1086.9,556.6h1.5v1.5h-1.5zM1097.8,556.6h1.5v1.5h-1.5zM1108.6,556.6h1.5v1.5h-1.5zM1119.5,556.6h1.5v1.5h-1.5zM1130.3,556.6h1.5v1.5h-1.5zM1141.2,556.6h1.5v1.5h-1.5zM1152.0,556.6h1.5v1.5h-1.5zM1162.9,556.6h1.5v1.5h-1.5zM1173.7,556.6h1.5v1.5h-1.5zM1184.6,556.6h1.5v1.5h-1.5zM1195.4,556.6h1.5v1.5h-1.5zM1206.2,556.6h1.5v1.5h-1.5zM1217.1,556.6h1.5v1.5h-1.5zM1227.9,556.6h1.5v1.5h-1.5zM1238.8,556.6h1.5v1.5h-1.5zM1249.6,556.6h1.5v1.5h-1.5zM1260.5,556.6h1.5v1.5h-1.5zM1271.3,556.6h1.5v1.5h-1.5zM1282.2,556.6h1.5v1.5h-1.5zM1293.0,556.6h1.5v1.5h-1.5zM1303.9,556.6h1.5v1.5h-1.5zM1314.7,556.6h1.5v1.5h-1.5zM1325.6,556.6h1.5v1.5h-1.5zM1336.4,556.6h1.5v1.5h-1.5zM1347.3,556.6h1.5v1.5h-1.5zM1358.1,556.6h1.5v1.5h-1.5zM1369.0,556.6h1.5v1.5h-1.5zM1379.8,556.6h1.5v1.5h-1.5zM1390.7,556.6h1.5v1.5h-1.5zM1401.5,556.6h1.5v1.5h-1.5zM1412.4,556.6h1.5v1.5h-1.5zM1423.2,556.6h1.5v1.5h-1.5zM1434.1,556.6h1.5v1.5h-1.5zM1444.9,556.6h1.5v1.5h-1.5zM1455.8,556.6h1.5v1.5h-1.5zM1466.6,556.6h1.5v1.5h-1.5zM1477.5,556.6h1.5v1.5h-1.5zM1488.3,556.6h1.5v1.5h-1.5zM1499.2,556.6h1.5v1.5h-1.5zM1510.0,556.6h1.5v1.5h-1.5zM1520.9,556.6h1.5v1.5h-1.5zM1531.7,556.6h1.5v1.5h-1.5zM1542.6,556.6h1.5v1.5h-1.5zM1553.4,556.6h1.5v1.5h-1.5zM1564.3,556.6h1.5v1.5h-1.5zM1575.1,556.6h1.5v1.5h-1.5zM1586.0,556.6h1.5v1.5h-1.5zM1596.8,556.6h1.5v1.5h-1.5zM1607.7,556.6h1.5v1.5h-1.5zM67.0,608.9h1.5v1.5h-1.5zM77.8,608.9h1.5v1.5h-1.5zM88.7,608.9h1.5v1.5h-1.5zM99.5,608.9h1.5v1.5h-1.5zM110.4,608.9h1.5v1.5h-1.5zM121.2,608.9h1.5v1.5h-1.5zM132.1,608.9h1.5v1.5h-1.5zM142.9,608.9h1.5v1.5h-1.5zM153.8,608.9h1.5v1.5h-1.5zM164.6,608.9h1.5v1.5h-1.5zM175.5,608.9h1.5v1.5h-1.5zM186.3,608.9h1.5v1.5h-1.5zM197.2,608.9h1.5v1.5h-1.5zM208.0,608.9h1.5v1.5h-1.5zM218.9,608.9h1.5v1.5h-1.5zM229.7,608.9h1.5v1.5h-1.5zM240.6,608.9h1.5v1.5h-1.5zM251.4,608.9h1.5v1.5h-1.5zM262.3,608.9h1.5v1.5h-1.5zM273.1,608.9h1.5v1.5h-1.5zM284.0,608.9h1.5v1.5h-1.5zM294.8,608.9h1.5v1.5h-1.5zM305.7,608.9h1.5v1.5h-1.5zM316.6,608.9h1.5v1.5h-1.5zM327.4,608.9h1.5v1.5h-1.5zM338.3,608.9h1.5v1.5h-1.5zM349.1,608.9h1.5v1.5h-1.5zM360.0,608.9h1.5v1.5h-1.5zM370.8,608.9h1.5v1.5h-1.5zM381.7,608.9h1.5v1.5h-1.5zM392.5,608.9h1.5v1.5h-1.5zM403.4,608.9h1.5v1.5h-1.5zM414.2,608.9h1.5v1.5h-1.5zM425.1,608.9h1.5v1.5h-1.5zM435.9,608.9h1.5v1.5h-1.5zM446.8,608.9h1.5v1.5h-1.5zM457.6,608.9h1.5v1.5h-1.5zM468.5,608.9h1.5v1.5h-1.5zM479.3,608.9h1.5v1.5h-1.5zM490.2,608.9h1.5v1.5h-1.5zM501.0,608.9h1.5v1.5h-1.5zM511.9,608.9h1.5v1.5h-1.5zM522.7,608.9h1.5v1.5h-1.5zM533.6,608.9h1.5v1.5h-1.5zM544.4,608.9h1.5v1.5h-1.5zM555.3,608.9h1.5v1.5h-1.5zM566.1,608.9h1.5v1.5h-1.5zM577.0,608.9h1.5v1.5h-1.5zM587.8,608.9h1.5v1.5h-1.5zM598.7,608.9h1.5v1.5h-1.5zM609.5,608.9h1.5v1.5h-1.5zM620.4,608.9h1.5v1.5h-1.5zM631.2,608.9h1.5v1.5h-1.5zM642.1,608.9h1.5v1.5h-1.5zM652.9,608.9h1.5v1.5h-1.5zM663.8,608.9h1.5v1.5h-1.5zM674.6,608.9h1.5v1.5h-1.5zM685.5,608.9h1.5v1.5h-1.5zM696.3,608.9h1.5v1.5h-1.5zM707.2,608.9h1.5v1.5h-1.5zM718.0,608.9h1.5v1.5h-1.5zM728.9,608.9h1.5v1.5h-1.5zM739.7,608.9h1.5v1.5h-1.5zM750.6,608.9h1.5v1.5h-1.5zM761.4,608.9h1.5v1.5h-1.5zM772.3,608.9h1.5v1.5h-1.5zM783.1,608.9h1.5v1.5h-1.5zM794.0,608.9h1.5v1.5h-1.5zM804.8,608.9h1.5v1.5h-1.5zM815.7,608.9h1.5v1.5h-1.5zM826.5,608.9h1.5v1.5h-1.5zM837.4,608.9h1.5v1.5h-1.5zM848.2,608.9h1.5v1.5h-1.5zM859.1,608.9h1.5v1.5h-1.5zM869.9,608.9h1.5v1.5h-1.5zM880.8,608.9h1.5v1.5h-1.5zM891.6,608.9h1.5v1.5h-1.5zM902.5,608.9h1.5v1.5h-1.5zM913.3,608.9h1.5v1.5h-1.5zM924.2,608.9h1.5v1.5h-1.5zM935.0,608.9h1.5v1.5h-1.5zM945.9,608.9h1.5v1.5h-1.5zM956.7,608.9h1.5v1.5h-1.5zM967.6,608.9h1.5v1.5h-1.5zM978.4,608.9h1.5v1.5h-1.5zM989.3,608.9h1.5v1.5h-1.5zM1000.1,608.9h1.5v1.5h-1.5zM1011.0,608.9h1.5v1.5h-1.5zM1021.8,608.9h1.5v1.5h-1.5zM1032.7,608.9h1.5v1.5h-1.5zM1043.5,608.9h1.5v1.5h-1.5zM1054.4,608.9h1.5v1.5h-1.5zM1065.2,608.9h1.5v1.5h-1.5zM1076.1,608.9h1.5v1.5h-1.5zM1086.9,608.9h1.5v1.5h-1.5zM1097.8,608.9h1.5v1.5h-1.5zM1108.6,608.9h1.5v1.5h-1.5zM1119.5,608.9h1.5v1.5h-1.5zM1130.3,608.9h1.5v1.5h-1.5zM1141.2,608.9h1.5v1.5h-1.5zM1152.0,608.9h1.5v1.5h-1.5zM1162.9,608.9h1.5v1.5h-1.5zM1173.7,608.9h1.5v1.5h-1.5zM1184.6,608.9h1.5v1.5h-1.5zM1195.4,608.9h1.5v1.5h-1.5zM1206.2,608.9h1.5v1.5h-1.5zM1217.1,608.9h1.5v1.5h-1.5zM1227.9,608.9h1.5v1.5h-1.5zM1238.8,608.9h1.5v1.5h-1.5zM1249.6,608.9h1.5v1.5h-1.5zM1260.5,608.9h1.5v1.5h-1.5zM1271.3,608.9h1.5v1.5h-1.5zM1282.2,608.9h1.5v1.5h-1.5zM1293.0,608.9h1.5v1.5h-1.5zM1303.9,608.9h1.5v1.5h-1.5zM1314.7,608.9h1.5v1.5h-1.5zM1325.6,608.9h1.5v1.5h-1.5zM1336.4,608.9h1.5v1.5h-1.5zM1347.3,608.9h1.5v1.5h-1.5zM1358.1,608.9h1.5v1.5h-1.5zM1369.0,608.9h1.5v1.5h-1.5zM1379.8,608.9h1.5v1.5h-1.5zM1390.7,608.9h1.5v1.5h-1.5zM1401.5,608.9h1.5v1.5h-1.5zM1412.4,608.9h1.5v1.5h-1.5zM1423.2,608.9h1.5v1.5h-1.5zM1434.1,608.9h1.5v1.5h-1.5zM1444.9,608.9h1.5v1.5h-1.5zM1455.8,608.9h1.5v1.5h-1.5zM1466.6,608.9h1.5v1.5h-1.5zM1477.5,608.9h1.5v1.5h-1.5zM1488.3,608.9h1.5v1.5h-1.5zM1499.2,608.9h1.5v1.5h-1.5zM1510.0,608.9h1.5v1.5h-1.5zM1520.9,608.9h1.5v1.5h-1.5zM1531.7,608.9h1.5v1.5h-1.5zM1542.6,608.9h1.5v1.5h-1.5zM1553.4,608.9h1.5v1.5h-1.5zM1564.3,608.9h1.5v1.5h-1.5zM1575.1,608.9h1.5v1.5h-1.5zM1586.0,608.9h1.5v1.5h-1.5zM1596.8,608.9h1.5v1.5h-1.5zM1607.7,608.9h1.5v1.5h-1.5zM67.0,661.3h1.5v1.5h-1.5zM77.8,661.3h1.5v1.5h-1.5zM88.7,661.3h1.5v1.5h-1.5zM99.5,661.3h1.5v1.5h-1.5zM110.4,661.3h1.5v1.5h-1.5zM121.2,661.3h1.5v1.5h-1.5zM132.1,661.3h1.5v1.5h-1.5zM142.9,661.3h1.5v1.5h-1.5zM153.8,661.3h1.5v1.5h-1.5zM164.6,661.3h1.5v1.5h-1.5zM175.5,661.3h1.5v1.5h-1.5zM186.3,661.3h1.5v1.5h-1.5zM197.2,661.3h1.5v1.5h-1.5zM208.0,661.3h1.5v1.5h-1.5zM218.9,661.3h1.5v1.5h-1.5zM229.7,661.3h1.5v1.5h-1.5zM240.6,661.3h1.5v1.5h-1.5zM251.4,661.3h1.5v1.5h-1.5zM262.3,661.3h1.5v1.5h-1.5zM273.1,661.3h1.5v1.5h-1.5zM284.0,661.3h1.5v1.5h-1.5zM294.8,661.3h1.5v1.5h-1.5zM305.7,661.3h1.5v1.5h-1.5zM316.6,661.3h1.5v1.5h-1.5zM327.4,661.3h1.5v1.5h-1.5zM338.3,661.3h1.5v1.5h-1.5zM349.1,661.3h1.5v1.5h-1.5zM360.0,661.3h1.5v1.5h-1.5zM370.8,661.3h1.5v1.5h-1.5zM381.7,661.3h1.5v1.5h-1.5zM392.5,661.3h1.5v1.5h-1.5zM403.4,661.3h1.5v1.5h-1.5zM414.2,661.3h1.5v1.5h-1.5zM425.1,661.3h1.5v1.5h-1.5zM435.9,661.3h1.5v1.5h-1.5zM446.8,661.3h1.5v1.5h-1.5zM457.6,661.3h1.5v1.5h-1.5zM468.5,661.3h1.5v1.5h-1.5zM479.3,661.3h1.5v1.5h-1.5zM490.2,661.3h1.5v1.5h-1.5zM501.0,661.3h1.5v1.5h-1.5zM511.9,661.3h1.5v1.5h-1.5zM522.7,661.3h1.5v1.5h-1.5zM533.6,661.3h1.5v1.5h-1.5zM544.4,661.3h1.5v1.5h-1.5zM555.3,661.3h1.5v1.5h-1.5zM566.1,661.3h1.5v1.5h-1.5zM577.0,661.3h1.5v1.5h-1.5zM587.8,661.3h1.5v1.5h-1.5zM598.7,661.3h1.5v1.5h-1.5zM609.5,661.3h1.5v1.5h-1.5zM620.4,661.3h1.5v1.5h-1.5zM631.2,661.3h1.5v1.5h-1.5zM642.1,661.3h1.5v1.5h-1.5zM652.9,661.3h1.5v1.5h-1.5zM663.8,661.3h1.5v1.5h-1.5zM674.6,661.3h1.5v1.5h-1.5zM685.5,661.3h1.5v1.5h-1.5zM696.3,661.3h1.5v1.5h-1.5zM707.2,661.3h1.5v1.5h-1.5zM718.0,661.3h1.5v1.5h-1.5zM728.9,661.3h1.5v1.5h-1.5zM739.7,661.3h1.5v1.5h-1.5zM750.6,661.3h1.5v1.5h-1.5zM761.4,661.3h1.5v1.5h-1.5zM772.3,661.3h1.5v1.5h-1.5zM783.1,661.3h1.5v1.5h-1.5zM794.0,661.3h1.5v1.5h-1.5zM804.8,661.3h1.5v1.5h-1.5zM815.7,661.3h1.5v1.5h-1.5zM826.5,661.3h1.5v1.5h-1.5zM837.4,661.3h1.5v1.5h-1.5zM848.2,661.3h1.5v1.5h-1.5zM859.1,661.3h1.5v1.5h-1.5zM869.9,661.3h1.5v1.5h-1.5zM880.8,661.3h1.5v1.5h-1.5zM891.6,661.3h1.5v1.5h-1.5zM902.5,661.3h1.5v1.5h-1.5zM913.3,661.3h1.5v1.5h-1.5zM924.2,661.3h1.5v1.5h-1.5zM935.0,661.3h1.5v1.5h-1.5zM945.9,661.3h1.5v1.5h-1.5zM956.7,661.3h1.5v1.5h-1.5zM967.6,661.3h1.5v1.5h-1.5zM978.4,661.3h1.5v1.5h-1.5zM989.3,661.3h1.5v1.5h-1.5zM1000.1,661.3h1.5v1.5h-1.5zM1011.0,661.3h1.5v1.5h-1.5zM1021.8,661.3h1.5v1.5h-1.5zM1032.7,661.3h1.5v1.5h-1.5zM1043.5,661.3h1.5v1.5h-1.5zM1054.4,661.3h1.5v1.5h-1.5zM1065.2,661.3h1.5v1.5h-1.5zM1076.1,661.3h1.5v1.5h-1.5zM1086.9,661.3h1.5v1.5h-1.5zM1097.8,661.3h1.5v1.5h-1.5zM1108.6,661.3h1.5v1.5h-1.5zM1119.5,661.3h1.5v1.5h-1.5zM1130.3,661.3h1.5v1.5h-1.5zM1141.2,661.3h1.5v1.5h-1.5zM1152.0,661.3h1.5v1.5h-1.5zM1162.9,661.3h1.5v1.5h-1.5zM1173.7,661.3h1.5v1.5h-1.5zM1184.6,661.3h1.5v1.5h-1.5zM1195.4,661.3h1.5v1.5h-1.5zM1206.2,661.3h1.5v1.5h-1.5zM1217.1,661.3h1.5v1.5h-1.5zM1227.9,661.3h1.5v1.5h-1.5zM1238.8,661.3h1.5v1.5h-1.5zM1249.6,661.3h1.5v1.5h-1.5zM1260.5,661.3h1.5v1.5h-1.5zM1271.3,661.3h1.5v1.5h-1.5zM1282.2,661.3h1.5v1.5h-1.5zM1293.0,661.3h1.5v1.5h-1.5zM1303.9,661.3h1.5v1.5h-1.5zM1314.7,661.3h1.5v1.5h-1.5zM1325.6,661.3h1.5v1.5h-1.5zM1336.4,661.3h1.5v1.5h-1.5zM1347.3,661.3h1.5v1.5h-1.5zM1358.1,661.3h1.5v1.5h-1.5zM1369.0,661.3h1.5v1.5h-1.5zM1379.8,661.3h1.5v1.5h-1.5zM1390.7,661.3h1.5v1.5h-1.5zM1401.5,661.3h1.5v1.5h-1.5zM1412.4,661.3h1.5v1.5h-1.5zM1423.2,661.3h1.5v1.5h-1.5zM1434.1,661.3h1.5v1.5h-1.5zM1444.9,661.3h1.5v1.5h-1.5zM1455.8,661.3h1.5v1.5h-1.5zM1466.6,661.3h1.5v1.5h-1.5zM1477.5,661.3h1.5v1.5h-1.5zM1488.3,661.3h1.5v1.5h-1.5zM1499.2,661.3h1.5v1.5h-1.5zM1510.0,661.3h1.5v1.5h-1.5zM1520.9,661.3h1.5v1.5h-1.5zM1531.7,661.3h1.5v1.5h-1.5zM1542.6,661.3h1.5v1.5h-1.5zM1553.4,661.3h1.5v1.5h-1.5zM1564.3,661.3h1.5v1.5h-1.5zM1575.1,661.3h1.5v1.5h-1.5zM1586.0,661.3h1.5v1.5h-1.5zM1596.8,661.3h1.5v1.5h-1.5zM1607.7,661.3h1.5v1.5h-1.5zM67.0,713.6h1.5v1.5h-1.5zM77.8,713.6h1.5v1.5h-1.5zM88.7,713.6h1.5v1.5h-1.5zM99.5,713.6h1.5v1.5h-1.5zM110.4,713.6h1.5v1.5h-1.5zM121.2,713.6h1.5v1.5h-1.5zM132.1,713.6h1.5v1.5h-1.5zM142.9,713.6h1.5v1.5h-1.5zM153.8,713.6h1.5v1.5h-1.5zM164.6,713.6h1.5v1.5h-1.5zM175.5,713.6h1.5v1.5h-1.5zM186.3,713.6h1.5v1.5h-1.5zM197.2,713.6h1.5v1.5h-1.5zM208.0,713.6h1.5v1.5h-1.5zM218.9,713.6h1.5v1.5h-1.5zM229.7,713.6h1.5v1.5h-1.5zM240.6,713.6h1.5v1.5h-1.5zM251.4,713.6h1.5v1.5h-1.5zM262.3,713.6h1.5v1.5h-1.5zM273.1,713.6h1.5v1.5h-1.5zM284.0,713.6h1.5v1.5h-1.5zM294.8,713.6h1.5v1.5h-1.5zM305.7,713.6h1.5v1.5h-1.5zM316.6,713.6h1.5v1.5h-1.5zM327.4,713.6h1.5v1.5h-1.5zM338.3,713.6h1.5v1.5h-1.5zM349.1,713.6h1.5v1.5h-1.5zM360.0,713.6h1.5v1.5h-1.5zM370.8,713.6h1.5v1.5h-1.5zM381.7,713.6h1.5v1.5h-1.5zM392.5,713.6h1.5v1.5h-1.5zM403.4,713.6h1.5v1.5h-1.5zM414.2,713.6h1.5v1.5h-1.5zM425.1,713.6h1.5v1.5h-1.5zM435.9,713.6h1.5v1.5h-1.5zM446.8,713.6h1.5v1.5h-1.5zM457.6,713.6h1.5v1.5h-1.5zM468.5,713.6h1.5v1.5h-1.5zM479.3,713.6h1.5v1.5h-1.5zM490.2,713.6h1.5v1.5h-1.5zM501.0,713.6h1.5v1.5h-1.5zM511.9,713.6h1.5v1.5h-1.5zM522.7,713.6h1.5v1.5h-1.5zM533.6,713.6h1.5v1.5h-1.5zM544.4,713.6h1.5v1.5h-1.5zM555.3,713.6h1.5v1.5h-1.5zM566.1,713.6h1.5v1.5h-1.5zM577.0,713.6h1.5v1.5h-1.5zM587.8,713.6h1.5v1.5h-1.5zM598.7,713.6h1.5v1.5h-1.5zM609.5,713.6h1.5v1.5h-1.5zM620.4,713.6h1.5v1.5h-1.5zM631.2,713.6h1.5v1.5h-1.5zM642.1,713.6h1.5v1.5h-1.5zM652.9,713.6h1.5v1.5h-1.5zM663.8,713.6h1.5v1.5h-1.5zM674.6,713.6h1.5v1.5h-1.5zM685.5,713.6h1.5v1.5h-1.5zM696.3,713.6h1.5v1.5h-1.5zM707.2,713.6h1.5v1.5h-1.5zM718.0,713.6h1.5v1.5h-1.5zM728.9,713.6h1.5v1.5h-1.5zM739.7,713.6h1.5v1.5h-1.5zM750.6,713.6h1.5v1.5h-1.5zM761.4,713.6h1.5v1.5h-1.5zM772.3,713.6h1.5v1.5h-1.5zM783.1,713.6h1.5v1.5h-1.5zM794.0,713.6h1.5v1.5h-1.5zM804.8,713.6h1.5v1.5h-1.5zM815.7,713.6h1.5v1.5h-1.5zM826.5,713.6h1.5v1.5h-1.5zM837.4,713.6h1.5v1.5h-1.5zM848.2,713.6h1.5v1.5h-1.5zM859.1,713.6h1.5v1.5h-1.5zM869.9,713.6h1.5v1.5h-1.5zM880.8,713.6h1.5v1.5h-1.5zM891.6,713.6h1.5v1.5h-1.5zM902.5,713.6h1.5v1.5h-1.5zM913.3,713.6h1.5v1.5h-1.5zM924.2,713.6h1.5v1.5h-1.5zM935.0,713.6h1.5v1.5h-1.5zM945.9,713.6h1.5v1.5h-1.5zM956.7,713.6h1.5v1.5h-1.5zM967.6,713.6h1.5v1.5h-1.5zM978.4,713.6h1.5v1.5h-1.5zM989.3,713.6h1.5v1.5h-1.5zM1000.1,713.6h1.5v1.5h-1.5zM1011.0,713.6h1.5v1.5h-1.5zM1021.8,713.6h1.5v1.5h-1.5zM1032.7,713.6h1.5v1.5h-1.5zM1043.5,713.6h1.5v1.5h-1.5zM1054.4,713.6h1.5v1.5h-1.5zM1065.2,713.6h1.5v1.5h-1.5zM1076.1,713.6h1.5v1.5h-1.5zM1086.9,713.6h1.5v1.5h-1.5zM1097.8,713.6h1.5v1.5h-1.5zM1108.6,713.6h1.5v1.5h-1.5zM1119.5,713.6h1.5v1.5h-1.5zM1130.3,713.6h1.5v1.5h-1.5zM1141.2,713.6h1.5v1.5h-1.5zM1152.0,713.6h1.5v1.5h-1.5zM1162.9,713.6h1.5v1.5h-1.5zM1173.7,713.6h1.5v1.5h-1.5zM1184.6,713.6h1.5v1.5h-1.5zM1195.4,713.6h1.5v1.5h-1.5zM1206.2,713.6h1.5v1.5h-1.5zM1217.1,713.6h1.5v1.5h-1.5zM1227.9,713.6h1.5v1.5h-1.5zM1238.8,713.6h1.5v1.5h-1.5zM1249.6,713.6h1.5v1.5h-1.5zM1260.5,713.6h1.5v1.5h-1.5zM1271.3,713.6h1.5v1.5h-1.5zM1282.2,713.6h1.5v1.5h-1.5zM1293.0,713.6h1.5v1.5h-1.5zM1303.9,713.6h1.5v1.5h-1.5zM1314.7,713.6h1.5v1.5h-1.5zM1325.6,713.6h1.5v1.5h-1.5zM1336.4,713.6h1.5v1.5h-1.5zM1347.3,713.6h1.5v1.5h-1.5zM1358.1,713.6h1.5v1.5h-1.5zM1369.0,713.6h1.5v1.5h-1.5zM1379.8,713.6h1.5v1.5h-1.5zM1390.7,713.6h1.5v1.5h-1.5zM1401.5,713.6h1.5v1.5h-1.5zM1412.4,713.6h1.5v1.5h-1.5zM1423.2,713.6h1.5v1.5h-1.5zM1434.1,713.6h1.5v1.5h-1.5zM1444.9,713.6h1.5v1.5h-1.5zM1455.8,713.6h1.5v1.5h-1.5zM1466.6,713.6h1.5v1.5h-1.5zM1477.5,713.6h1.5v1.5h-1.5zM1488.3,713.6h1.5v1.5h-1.5zM1499.2,713.6h1.5v1.5h-1.5zM1510.0,713.6h1.5v1.5h-1.5zM1520.9,713.6h1.5v1.5h-1.5zM1531.7,713.6h1.5v1.5h-1.5zM1542.6,713.6h1.5v1.5h-1.5zM1553.4,713.6h1.5v1.5h-1.5zM1564.3,713.6h1.5v1.5h-1.5zM1575.1,713.6h1.5v1.5h-1.5zM1586.0,713.6h1.5v1.5h-1.5zM1596.8,713.6h1.5v1.5h-1.5zM1607.7,713.6h1.5v1.5h-1.5z" fill="#555" fill-opacity="0.15"/>
<path d="M57.5,711.0 C59.7,710.1 61.6,707.6 64.1,708.2 C68.8,709.3 75.2,727.5 81.1,727.5 C87.6,727.5 95.4,703.9 101.7,704.0 C107.2,704.1 110.3,719.8 117.0,722.3 C124.2,725.0 135.2,720.6 144.0,718.1 C152.9,715.5 164.3,712.9 169.9,707.0 C174.8,701.8 174.7,686.7 177.5,686.4 C179.7,686.2 181.1,696.3 184.5,697.0 C188.9,698.0 197.1,690.7 202.8,685.8 C209.2,680.3 214.9,672.7 220.4,664.7 C226.7,655.6 233.5,643.9 238.0,633.7 C242.0,624.7 244.8,615.7 246.6,607.0 C248.3,599.0 247.4,588.4 249.0,583.3 C249.9,580.6 251.2,579.5 252.3,577.6 C253.6,580.1 254.9,581.6 256.1,585.2 C258.7,593.1 260.2,616.3 262.8,624.2 C264.0,627.8 265.3,629.3 266.6,631.8 C274.2,645.7 283.3,661.4 289.4,673.6 C294.0,682.9 296.7,692.5 300.8,698.4 C303.5,702.3 306.5,706.8 309.4,707.0 C312.2,707.2 315.2,702.9 318.0,700.3 C321.2,697.3 324.9,690.3 327.5,689.8 C328.9,689.5 329.7,691.5 331.3,691.7 C333.9,692.1 339.0,689.6 341.7,690.0 C343.5,690.2 343.9,691.3 346.0,692.0 C351.4,693.8 369.9,698.8 375.5,697.8 C378.0,697.3 378.7,696.4 380.4,694.7 C383.7,691.4 387.6,680.3 391.5,677.5 C393.9,675.8 396.6,676.5 398.9,675.6 C401.1,674.8 403.1,673.9 405.0,672.6 C407.0,671.3 408.9,667.4 410.6,667.7 C412.8,668.1 414.4,678.8 416.1,678.7 C418.0,678.6 419.2,669.5 421.0,664.0 C423.3,656.9 425.6,642.0 428.4,639.4 C429.4,638.5 430.6,638.3 431.5,638.7 C432.9,639.4 432.9,644.8 434.6,645.5 C436.4,646.2 439.5,644.1 442.0,642.4 C445.6,639.9 448.7,635.7 453.0,630.8 C459.7,623.1 470.6,608.3 477.6,600.0 C482.6,594.1 486.4,590.1 490.8,585.2 C492.0,581.5 493.2,577.8 494.4,574.1 C496.5,550.7 498.5,527.4 500.6,504.0 C505.5,493.3 510.5,482.7 515.4,472.0 C516.6,476.9 517.6,480.1 519.0,486.8 C522.0,501.0 527.6,530.4 531.4,553.2 C535.4,577.1 539.0,613.9 542.4,627.0 C543.7,631.9 544.2,636.2 546.1,636.9 C547.7,637.5 550.6,635.8 552.3,633.2 C556.5,626.9 556.1,599.7 558.4,590.1 C559.6,585.1 560.9,582.7 562.1,579.0 C563.7,583.5 565.4,587.2 567.0,592.6 C569.2,600.0 571.2,612.0 573.2,619.6 C574.7,625.2 575.6,628.9 577.7,634.0 C580.3,640.2 584.7,647.9 588.0,653.8 C590.7,658.7 592.8,661.6 595.7,666.9 C600.1,674.9 606.3,690.4 611.2,697.7 C614.3,702.3 617.4,707.1 620.2,708.0 C622.0,708.5 623.6,708.0 625.3,706.7 C628.6,704.2 631.3,692.7 635.6,690.0 C638.9,687.9 642.9,688.5 647.2,688.7 C652.6,688.9 660.5,690.8 665.2,692.3 C668.4,693.3 669.9,695.2 672.9,695.8 C676.8,696.6 682.8,697.4 687.0,695.2 C692.1,692.5 696.0,681.6 699.9,678.4 C702.2,676.5 703.8,676.0 706.3,675.2 C709.3,674.2 713.9,674.5 716.6,673.3 C718.7,672.4 720.0,669.3 721.7,669.4 C723.6,669.5 725.5,675.6 727.5,675.2 C731.9,674.3 737.8,639.3 741.6,639.0 C743.5,638.8 743.8,647.2 746.7,647.5 C755.2,648.3 784.4,605.8 803.3,585.0 C804.6,577.7 805.9,572.2 807.2,563.2 C809.3,548.8 810.0,523.2 813.6,506.6 C816.5,493.1 821.3,482.6 825.2,470.6 C827.8,480.9 830.3,489.5 832.9,501.4 C836.3,517.4 839.8,538.9 843.2,558.0 C846.7,577.5 849.9,603.0 853.5,617.2 C855.6,625.5 857.5,636.3 859.9,636.5 C861.8,636.7 864.4,630.3 866.3,624.9 C870.0,614.8 872.3,594.0 875.3,578.6 C878.7,593.2 881.1,609.2 885.6,622.3 C889.6,633.7 896.6,644.8 900.0,653.2 C902.2,658.7 902.1,661.6 904.8,667.3 C909.6,677.3 922.5,704.5 929.4,706.7 C932.5,707.7 935.2,705.2 938.0,703.0 C941.9,699.9 945.3,693.1 949.0,688.2 C954.8,688.2 962.5,690.0 966.3,688.2 C968.8,687.0 969.6,684.1 971.2,682.1 C981.9,652.6 996.0,617.3 1003.2,593.5 C1008.0,577.9 1009.7,567.1 1013.0,554.0 C1016.3,540.9 1019.6,527.9 1022.9,514.8 C1026.1,527.0 1029.3,539.6 1032.4,551.5 C1035.4,562.9 1038.4,573.3 1041.3,585.0 C1044.4,597.8 1047.0,613.3 1050.3,625.3 C1053.0,635.2 1056.0,644.4 1059.2,652.1 C1061.7,658.1 1063.8,663.7 1067.0,667.8 C1069.6,671.2 1073.0,675.1 1076.0,675.6 C1078.6,676.0 1081.3,674.1 1083.8,672.3 C1087.0,670.0 1089.2,665.1 1092.8,662.2 C1096.7,659.1 1102.9,656.1 1106.4,654.4 C1108.5,653.4 1110.1,654.0 1111.7,652.4 C1114.9,649.3 1116.9,639.0 1119.8,633.0 C1122.4,627.7 1125.2,623.1 1127.9,618.2 C1130.6,624.0 1132.6,629.7 1135.9,635.6 C1139.6,642.2 1144.4,649.3 1149.3,655.8 C1154.2,662.3 1160.2,674.5 1165.4,674.6 C1170.0,674.7 1175.0,660.1 1178.9,660.5 C1182.6,660.9 1184.5,675.2 1188.3,675.9 C1191.8,676.5 1196.7,666.1 1200.3,666.5 C1203.8,666.9 1206.6,677.7 1209.7,677.9 C1212.4,678.1 1215.3,670.9 1217.8,670.5 C1219.7,670.2 1221.5,671.4 1223.2,673.2 C1226.7,676.9 1228.5,693.0 1232.6,696.0 C1234.9,697.7 1237.4,697.0 1240.6,696.7 C1245.6,696.3 1253.3,693.4 1259.7,691.8 C1265.4,683.6 1271.8,676.4 1276.9,667.2 C1282.6,656.9 1287.0,645.9 1291.7,632.7 C1297.8,615.8 1304.0,593.6 1308.9,573.7 C1313.8,553.8 1317.1,533.5 1321.2,513.4 C1325.3,527.7 1329.2,541.4 1333.5,556.4 C1338.2,572.8 1343.4,590.7 1348.3,608.1 C1353.3,625.9 1356.6,649.0 1363.0,662.2 C1367.3,670.9 1372.1,675.8 1377.8,682.0 C1383.9,688.6 1393.8,701.7 1398.7,700.4 C1403.4,699.2 1403.7,682.0 1407.3,677.0 C1409.5,673.9 1412.1,671.4 1414.7,670.9 C1417.1,670.5 1420.1,671.8 1422.1,673.3 C1424.3,674.9 1425.2,680.4 1427.0,680.7 C1428.5,681.0 1430.5,676.7 1432.0,677.0 C1433.5,677.3 1434.6,682.8 1435.9,682.8 C1437.4,682.8 1438.8,678.6 1440.6,675.2 C1444.0,668.8 1449.7,653.8 1453.5,647.0 C1455.8,642.9 1457.8,640.7 1460.0,637.6 C1461.2,639.2 1462.3,640.1 1463.5,642.3 C1465.7,646.5 1467.1,656.1 1470.0,662.3 C1472.8,668.2 1477.4,675.6 1480.5,678.7 C1482.2,680.4 1483.5,680.5 1485.2,681.7 C1487.5,683.2 1491.1,687.6 1492.9,687.0 C1494.8,686.3 1494.6,680.3 1495.8,676.4 C1497.3,671.5 1499.1,665.4 1501.7,660.0 C1504.5,654.1 1508.8,644.5 1512.3,642.3 C1514.0,641.2 1515.9,641.1 1517.5,641.7 C1519.4,642.4 1521.2,644.8 1522.8,647.0 C1524.7,649.6 1525.1,652.6 1527.5,656.4 C1531.7,663.1 1541.2,683.5 1547.5,682.8 C1555.5,682.0 1562.4,651.1 1569.8,635.3 C1571.4,636.9 1572.7,637.5 1574.5,640.0 C1578.7,645.7 1587.1,666.9 1591.0,671.7 C1592.4,673.4 1593.2,673.3 1594.5,674.6 C1596.6,676.7 1599.3,683.7 1602.1,683.4 C1607.5,682.8 1615.0,659.1 1621.5,647.0" fill="none" stroke="#151515" stroke-width="3.6" stroke-linejoin="round" stroke-linecap="round"/>
<rect x="57" y="759" width="1565" height="12" fill="#151515"/>
<rect x="57.0" y="762.3" width="77.1" height="5.8" fill="#575b5c"/>
<rect x="134.1" y="762.3" width="77.1" height="5.8" fill="#9c9e9e"/>
<rect x="211.2" y="762.3" width="77.1" height="5.8" fill="#575b5c"/>
<rect x="288.3" y="762.3" width="77.1" height="5.8" fill="#9c9e9e"/>
<rect x="365.4" y="762.3" width="77.1" height="5.8" fill="#575b5c"/>
<rect x="442.5" y="762.3" width="77.1" height="5.8" fill="#9c9e9e"/>
<rect x="519.6" y="762.3" width="77.1" height="5.8" fill="#575b5c"/>
<rect x="596.7" y="762.3" width="77.1" height="5.8" fill="#9c9e9e"/>
<rect x="673.8" y="762.3" width="77.1" height="5.8" fill="#575b5c"/>
<rect x="750.9" y="762.3" width="77.1" height="5.8" fill="#9c9e9e"/>
<rect x="828.0" y="762.3" width="77.1" height="5.8" fill="#575b5c"/>
<rect x="905.1" y="762.3" width="77.1" height="5.8" fill="#9c9e9e"/>
<rect x="982.2" y="762.3" width="77.1" height="5.8" fill="#575b5c"/>
<rect x="1059.3" y="762.3" width="77.1" height="5.8" fill="#9c9e9e"/>
<rect x="1136.4" y="762.3" width="77.1" height="5.8" fill="#575b5c"/>
<rect x="1213.5" y="762.3" width="77.1" height="5.8" fill="#9c9e9e"/>
<rect x="1290.6" y="762.3" width="77.1" height="5.8" fill="#575b5c"/>
<rect x="1367.7" y="762.3" width="77.1" height="5.8" fill="#9c9e9e"/>
<rect x="1444.8" y="762.3" width="77.1" height="5.8" fill="#575b5c"/>
<rect x="1521.9" y="762.3" width="77.1" height="5.8" fill="#9c9e9e"/>
<rect x="1599.0" y="762.3" width="22.5" height="5.8" fill="#575b5c"/>
<path d="M263.9,421.5 H252.4 V793.5" fill="none" stroke="#000" stroke-opacity="0.45" stroke-width="1.3"/>
<path d="M520.5,421.5 H509.0 V793.5" fill="none" stroke="#000" stroke-opacity="0.45" stroke-width="1.3"/>
<path d="M575.6,421.5 H564.1 V793.5" fill="none" stroke="#000" stroke-opacity="0.45" stroke-width="1.3"/>
<path d="M834.9,421.5 H823.4 V793.5" fill="none" stroke="#000" stroke-opacity="0.45" stroke-width="1.3"/>
<path d="M885.1,421.5 H873.6 V793.5" fill="none" stroke="#000" stroke-opacity="0.45" stroke-width="1.3"/>
<path d="M1033.3,421.5 H1021.8 V793.5" fill="none" stroke="#000" stroke-opacity="0.45" stroke-width="1.3"/>
<path d="M1138.2,421.5 H1126.7 V793.5" fill="none" stroke="#000" stroke-opacity="0.45" stroke-width="1.3"/>
<path d="M1192.0,421.5 H1180.5 V793.5" fill="none" stroke="#000" stroke-opacity="0.45" stroke-width="1.3"/>
<path d="M1333.9,421.5 H1322.4 V793.5" fill="none" stroke="#000" stroke-opacity="0.45" stroke-width="1.3"/>
<path d="M1448.6,421.5 H1437.1 V793.5" fill="none" stroke="#000" stroke-opacity="0.45" stroke-width="1.3"/>
<path d="M1470.8,421.5 H1459.3 V793.5" fill="none" stroke="#000" stroke-opacity="0.45" stroke-width="1.3"/>
<path d="M1527.3,421.5 H1515.8 V793.5" fill="none" stroke="#000" stroke-opacity="0.45" stroke-width="1.3"/>
<path d="M1583.1,421.5 H1571.6 V793.5" fill="none" stroke="#000" stroke-opacity="0.45" stroke-width="1.3"/>
<rect x="55.2" y="420" width="3.6" height="373.7" fill="#151515"/>
<rect x="1621.3" y="429.3" width="3.6" height="364.2" fill="#151515"/>
<rect x="49.3" y="451.5" width="7" height="2.2" fill="#151515"/>
<text transform="translate(17.20,459.60) scale(0.8302,1)" x="-0.80" y="0" font-size="20.00" font-weight="normal" fill="#2e2e2e" stroke="#2e2e2e" stroke-width="0.4">800</text>
<rect x="49.3" y="503.9" width="7" height="2.2" fill="#151515"/>
<text transform="translate(17.20,511.96) scale(0.8354,1)" x="-1.00" y="0" font-size="20.00" font-weight="normal" fill="#2e2e2e" stroke="#2e2e2e" stroke-width="0.4">700</text>
<rect x="49.3" y="556.2" width="7" height="2.2" fill="#151515"/>
<text transform="translate(17.20,564.32) scale(0.8354,1)" x="-1.00" y="0" font-size="20.00" font-weight="normal" fill="#2e2e2e" stroke="#2e2e2e" stroke-width="0.4">600</text>
<rect x="49.3" y="608.6" width="7" height="2.2" fill="#151515"/>
<text transform="translate(17.20,616.68) scale(0.8302,1)" x="-0.80" y="0" font-size="20.00" font-weight="normal" fill="#2e2e2e" stroke="#2e2e2e" stroke-width="0.4">500</text>
<rect x="49.3" y="660.9" width="7" height="2.2" fill="#151515"/>
<text transform="translate(17.20,669.04) scale(0.8199,1)" x="-0.40" y="0" font-size="20.00" font-weight="normal" fill="#2e2e2e" stroke="#2e2e2e" stroke-width="0.4">400</text>
<rect x="49.3" y="713.3" width="7" height="2.2" fill="#151515"/>
<text transform="translate(17.20,721.40) scale(0.8302,1)" x="-0.80" y="0" font-size="20.00" font-weight="normal" fill="#2e2e2e" stroke="#2e2e2e" stroke-width="0.4">300</text>
<text transform="translate(129.45,782.90) scale(0.9113,1)" x="-0.99" y="0" font-size="12.40" font-weight="normal" fill="#333" stroke="#333" stroke-width="0.5">10</text>
<text transform="translate(206.55,782.90) scale(0.8847,1)" x="-0.62" y="0" font-size="12.40" font-weight="normal" fill="#333" stroke="#333" stroke-width="0.5">20</text>
<text transform="translate(283.65,782.90) scale(0.8762,1)" x="-0.50" y="0" font-size="12.40" font-weight="normal" fill="#333" stroke="#333" stroke-width="0.5">30</text>
<text transform="translate(360.75,782.90) scale(0.8597,1)" x="-0.25" y="0" font-size="12.40" font-weight="normal" fill="#333" stroke="#333" stroke-width="0.5">40</text>
<text transform="translate(437.85,782.90) scale(0.8762,1)" x="-0.50" y="0" font-size="12.40" font-weight="normal" fill="#333" stroke="#333" stroke-width="0.5">50</text>
<text transform="translate(514.95,782.90) scale(0.8847,1)" x="-0.62" y="0" font-size="12.40" font-weight="normal" fill="#333" stroke="#333" stroke-width="0.5">60</text>
<text transform="translate(592.05,782.90) scale(0.8847,1)" x="-0.62" y="0" font-size="12.40" font-weight="normal" fill="#333" stroke="#333" stroke-width="0.5">70</text>
<text transform="translate(669.15,782.90) scale(0.8762,1)" x="-0.50" y="0" font-size="12.40" font-weight="normal" fill="#333" stroke="#333" stroke-width="0.5">80</text>
<text transform="translate(746.25,782.90) scale(0.8847,1)" x="-0.62" y="0" font-size="12.40" font-weight="normal" fill="#333" stroke="#333" stroke-width="0.5">90</text>
<text transform="translate(820.75,782.90) scale(0.8585,1)" x="-0.99" y="0" font-size="12.40" font-weight="normal" fill="#333" stroke="#333" stroke-width="0.5">100</text>
<text transform="translate(897.85,782.90) scale(0.8991,1)" x="-0.99" y="0" font-size="12.40" font-weight="normal" fill="#333" stroke="#333" stroke-width="0.5">110</text>
<text transform="translate(974.95,782.90) scale(0.8585,1)" x="-0.99" y="0" font-size="12.40" font-weight="normal" fill="#333" stroke="#333" stroke-width="0.5">120</text>
<text transform="translate(1052.05,782.90) scale(0.8585,1)" x="-0.99" y="0" font-size="12.40" font-weight="normal" fill="#333" stroke="#333" stroke-width="0.5">130</text>
<text transform="translate(1129.15,782.90) scale(0.8585,1)" x="-0.99" y="0" font-size="12.40" font-weight="normal" fill="#333" stroke="#333" stroke-width="0.5">140</text>
<text transform="translate(1206.25,782.90) scale(0.8585,1)" x="-0.99" y="0" font-size="12.40" font-weight="normal" fill="#333" stroke="#333" stroke-width="0.5">150</text>
<text transform="translate(1283.35,782.90) scale(0.8585,1)" x="-0.99" y="0" font-size="12.40" font-weight="normal" fill="#333" stroke="#333" stroke-width="0.5">160</text>
<text transform="translate(1360.45,782.90) scale(0.8585,1)" x="-0.99" y="0" font-size="12.40" font-weight="normal" fill="#333" stroke="#333" stroke-width="0.5">170</text>
<text transform="translate(1437.55,782.90) scale(0.8585,1)" x="-0.99" y="0" font-size="12.40" font-weight="normal" fill="#333" stroke="#333" stroke-width="0.5">180</text>
<text transform="translate(1514.65,782.90) scale(0.8585,1)" x="-0.99" y="0" font-size="12.40" font-weight="normal" fill="#333" stroke="#333" stroke-width="0.5">190</text>
<text transform="translate(1587.75,782.90) scale(0.8422,1)" x="-0.62" y="0" font-size="12.40" font-weight="normal" fill="#333" stroke="#333" stroke-width="0.5">200</text>
<text transform="translate(64.80,805.00) rotate(-90) scale(0.7950,1)" x="-30.51" y="0" font-size="22.60" font-weight="normal" fill="#1e1e1e" stroke="#1e1e1e" stroke-width="0.45">0.0</text>
<text transform="translate(256.90,805.00) rotate(-90) scale(0.7950,1)" x="-42.94" y="0" font-size="22.60" font-weight="normal" fill="#1e1e1e" stroke="#1e1e1e" stroke-width="0.45">24.6</text>
<text transform="translate(517.00,805.00) rotate(-90) scale(0.7950,1)" x="-42.94" y="0" font-size="22.60" font-weight="normal" fill="#1e1e1e" stroke="#1e1e1e" stroke-width="0.45">58.8</text>
<text transform="translate(571.00,805.00) rotate(-90) scale(0.7950,1)" x="-42.94" y="0" font-size="22.60" font-weight="normal" fill="#1e1e1e" stroke="#1e1e1e" stroke-width="0.45">65.2</text>
<text transform="translate(834.60,805.00) rotate(-90) scale(0.7950,1)" x="-42.94" y="0" font-size="22.60" font-weight="normal" fill="#1e1e1e" stroke="#1e1e1e" stroke-width="0.45">99.3</text>
<text transform="translate(879.20,805.00) rotate(-90) scale(0.7950,1)" x="-55.60" y="0" font-size="22.60" font-weight="normal" fill="#1e1e1e" stroke="#1e1e1e" stroke-width="0.45">105.7</text>
<text transform="translate(1032.00,805.00) rotate(-90) scale(0.7950,1)" x="-55.60" y="0" font-size="22.60" font-weight="normal" fill="#1e1e1e" stroke="#1e1e1e" stroke-width="0.45">124.6</text>
<text transform="translate(1135.00,805.00) rotate(-90) scale(0.7950,1)" x="-55.60" y="0" font-size="22.60" font-weight="normal" fill="#1e1e1e" stroke="#1e1e1e" stroke-width="0.45">138.9</text>
<text transform="translate(1186.40,805.00) rotate(-90) scale(0.7950,1)" x="-55.60" y="0" font-size="22.60" font-weight="normal" fill="#1e1e1e" stroke="#1e1e1e" stroke-width="0.45">144.6</text>
<text transform="translate(1330.40,805.00) rotate(-90) scale(0.7950,1)" x="-55.60" y="0" font-size="22.60" font-weight="normal" fill="#1e1e1e" stroke="#1e1e1e" stroke-width="0.45">163.6</text>
<text transform="translate(1443.50,805.00) rotate(-90) scale(0.7950,1)" x="-55.82" y="0" font-size="22.60" font-weight="normal" fill="#1e1e1e" stroke="#1e1e1e" stroke-width="0.45">178.5</text>
<text transform="translate(1465.50,805.00) rotate(-90) scale(0.7950,1)" x="-55.82" y="0" font-size="22.60" font-weight="normal" fill="#1e1e1e" stroke="#1e1e1e" stroke-width="0.45">181.5</text>
<text transform="translate(1525.00,805.00) rotate(-90) scale(0.7950,1)" x="-55.60" y="0" font-size="22.60" font-weight="normal" fill="#1e1e1e" stroke="#1e1e1e" stroke-width="0.45">188.7</text>
<text transform="translate(1579.00,805.00) rotate(-90) scale(0.7950,1)" x="-55.60" y="0" font-size="22.60" font-weight="normal" fill="#1e1e1e" stroke="#1e1e1e" stroke-width="0.45">195.9</text>
<text transform="translate(1632.80,805.00) rotate(-90) scale(0.7950,1)" x="-55.60" y="0" font-size="22.60" font-weight="normal" fill="#1e1e1e" stroke="#1e1e1e" stroke-width="0.45">203.1</text>
<text transform="translate(266.10,349.50) rotate(-90) scale(0.6108,1)" x="-0.71" y="0" font-size="23.62" font-weight="bold" fill="#1a1a1a" stroke="#1a1a1a" stroke-width="0.9">555 WIELKA PUSZCZA  -  G.P. II KAT. PZU</text>
<text transform="translate(522.20,349.30) rotate(-90) scale(0.6086,1)" x="-0.94" y="0" font-size="23.62" font-weight="bold" fill="#1a1a1a" stroke="#1a1a1a" stroke-width="0.9">730 KOCIERZ  -  G.P. I KAT. PZU</text>
<text transform="translate(577.60,349.30) rotate(-90) scale(0.6103,1)" x="-0.71" y="0" font-size="23.62" font-weight="bold" fill="#1a1a1a" stroke="#1a1a1a" stroke-width="0.9">555 WIELKA PUSZCZA  -  G.P. II KAT. PZU</text>
<text transform="translate(833.80,349.30) rotate(-90) scale(0.6086,1)" x="-0.94" y="0" font-size="23.62" font-weight="bold" fill="#1a1a1a" stroke="#1a1a1a" stroke-width="0.9">730 KOCIERZ  -  G.P. I KAT. PZU</text>
<text transform="translate(887.50,349.30) rotate(-90) scale(0.6103,1)" x="-0.71" y="0" font-size="23.62" font-weight="bold" fill="#1a1a1a" stroke="#1a1a1a" stroke-width="0.9">555 WIELKA PUSZCZA  -  G.P. II KAT. PZU</text>
<text transform="translate(1032.60,349.50) rotate(-90) scale(0.6075,1)" x="-0.94" y="0" font-size="23.62" font-weight="bold" fill="#1a1a1a" stroke="#1a1a1a" stroke-width="0.9">661 PRZEGIBEK  -  G.P. I KAT. PZU</text>
<text transform="translate(1142.60,349.50) rotate(-90) scale(0.5996,1)" x="-0.24" y="0" font-size="23.62" font-weight="bold" fill="#1a1a1a" stroke="#1a1a1a" stroke-width="0.9">481 WILKOWICE - PREMIA LOTNA LOTTO</text>
<text transform="translate(1196.10,349.50) rotate(-90) scale(0.5909,1)" x="-0.47" y="0" font-size="23.62" font-weight="bold" fill="#1a1a1a" stroke="#1a1a1a" stroke-width="0.9">362 ŁODYGOWICE - PREMIA LOTNA LOTTO</text>
<text transform="translate(1336.90,349.30) rotate(-90) scale(0.6070,1)" x="-0.94" y="0" font-size="23.62" font-weight="bold" fill="#1a1a1a" stroke="#1a1a1a" stroke-width="0.9">661 PRZEGIBEK  -  G.P. I KAT. PZU</text>
<text transform="translate(1447.60,348.90) rotate(-90) scale(0.5924,1)" x="-0.47" y="0" font-size="23.62" font-weight="bold" fill="#1a1a1a" stroke="#1a1a1a" stroke-width="0.9">361 BIELSKO-BIAŁA  -  WJAZD NA RUNDĘ</text>
<text transform="translate(1476.90,407.30) rotate(-90) scale(0.6050,1)" x="-0.24" y="0" font-size="23.62" font-weight="bold" fill="#1a1a1a" stroke="#1a1a1a" stroke-width="0.9">433 LINIA METY - POCZĄTEK I OKRĄŻENIA</text>
<text transform="translate(1532.20,407.30) rotate(-90) scale(0.6054,1)" x="-0.24" y="0" font-size="23.62" font-weight="bold" fill="#1a1a1a" stroke="#1a1a1a" stroke-width="0.9">433 LINIA METY - POCZĄTEK II OKRĄŻENIA</text>
<text transform="translate(1587.60,407.30) rotate(-90) scale(0.6070,1)" x="-0.24" y="0" font-size="23.62" font-weight="bold" fill="#1a1a1a" stroke="#1a1a1a" stroke-width="0.9">433 LINIA METY - POCZĄTEK III OKRĄŻENIA</text>
<text transform="translate(68.30,407.50) rotate(-90) scale(0.8394,1)" x="-1.03" y="0" font-size="34.20" font-weight="bold" fill="#111" stroke="#111" stroke-width="1.4">291 WADOWICE</text>
<text transform="translate(1636.30,407.50) rotate(-90) scale(0.8362,1)" x="-0.34" y="0" font-size="33.91" font-weight="bold" fill="#111" stroke="#111" stroke-width="1.4">433 BIELSKO-BIAŁA,</text>
<text transform="translate(1674.90,344.50) rotate(-90) scale(0.8478,1)" x="-0.97" y="0" font-size="32.32" font-weight="bold" fill="#111" stroke="#111" stroke-width="1.4">ŚLĄSKIE</text>
<path d="M241.2,368.7 L275.2,368.7 L258.2,404.0 Z" fill="#2a2a2a" stroke="#2a2a2a" stroke-width="12" stroke-linejoin="round"/>
<path d="M241.2,368.7 L275.2,368.7 L258.2,404.0 Z" fill="#f4fff0" stroke="#f4fff0" stroke-width="7" stroke-linejoin="round"/>
<path d="M241.2,368.7 L275.2,368.7 L258.2,404.0 Z" fill="#3e9b2b" stroke="#3e9b2b" stroke-width="1" stroke-linejoin="round"/>
<rect x="252.9" y="371" width="3.4" height="19.5" fill="#f4fff0"/>
<rect x="260.1" y="371" width="3.4" height="19.5" fill="#f4fff0"/>
<path d="M497.6,368.7 L531.6,368.7 L514.6,404.0 Z" fill="#2a2a2a" stroke="#2a2a2a" stroke-width="12" stroke-linejoin="round"/>
<path d="M497.6,368.7 L531.6,368.7 L514.6,404.0 Z" fill="#f4fff0" stroke="#f4fff0" stroke-width="7" stroke-linejoin="round"/>
<path d="M497.6,368.7 L531.6,368.7 L514.6,404.0 Z" fill="#3e9b2b" stroke="#3e9b2b" stroke-width="1" stroke-linejoin="round"/>
<rect x="512.6" y="371" width="4" height="19.5" fill="#f4fff0"/>
<path d="M552.5,368.7 L586.5,368.7 L569.5,404.0 Z" fill="#2a2a2a" stroke="#2a2a2a" stroke-width="12" stroke-linejoin="round"/>
<path d="M552.5,368.7 L586.5,368.7 L569.5,404.0 Z" fill="#f4fff0" stroke="#f4fff0" stroke-width="7" stroke-linejoin="round"/>
<path d="M552.5,368.7 L586.5,368.7 L569.5,404.0 Z" fill="#3e9b2b" stroke="#3e9b2b" stroke-width="1" stroke-linejoin="round"/>
<rect x="564.2" y="371" width="3.4" height="19.5" fill="#f4fff0"/>
<rect x="571.4" y="371" width="3.4" height="19.5" fill="#f4fff0"/>
<path d="M808.8,368.7 L842.8,368.7 L825.8,404.0 Z" fill="#2a2a2a" stroke="#2a2a2a" stroke-width="12" stroke-linejoin="round"/>
<path d="M808.8,368.7 L842.8,368.7 L825.8,404.0 Z" fill="#f4fff0" stroke="#f4fff0" stroke-width="7" stroke-linejoin="round"/>
<path d="M808.8,368.7 L842.8,368.7 L825.8,404.0 Z" fill="#3e9b2b" stroke="#3e9b2b" stroke-width="1" stroke-linejoin="round"/>
<rect x="823.8" y="371" width="4" height="19.5" fill="#f4fff0"/>
<path d="M863.0,368.7 L897.0,368.7 L880.0,404.0 Z" fill="#2a2a2a" stroke="#2a2a2a" stroke-width="12" stroke-linejoin="round"/>
<path d="M863.0,368.7 L897.0,368.7 L880.0,404.0 Z" fill="#f4fff0" stroke="#f4fff0" stroke-width="7" stroke-linejoin="round"/>
<path d="M863.0,368.7 L897.0,368.7 L880.0,404.0 Z" fill="#3e9b2b" stroke="#3e9b2b" stroke-width="1" stroke-linejoin="round"/>
<rect x="874.7" y="371" width="3.4" height="19.5" fill="#f4fff0"/>
<rect x="881.9" y="371" width="3.4" height="19.5" fill="#f4fff0"/>
<path d="M1007.7,368.7 L1041.7,368.7 L1024.7,404.0 Z" fill="#2a2a2a" stroke="#2a2a2a" stroke-width="12" stroke-linejoin="round"/>
<path d="M1007.7,368.7 L1041.7,368.7 L1024.7,404.0 Z" fill="#f4fff0" stroke="#f4fff0" stroke-width="7" stroke-linejoin="round"/>
<path d="M1007.7,368.7 L1041.7,368.7 L1024.7,404.0 Z" fill="#3e9b2b" stroke="#3e9b2b" stroke-width="1" stroke-linejoin="round"/>
<rect x="1022.7" y="371" width="4" height="19.5" fill="#f4fff0"/>
<path d="M1311.3,368.7 L1345.3,368.7 L1328.3,404.0 Z" fill="#2a2a2a" stroke="#2a2a2a" stroke-width="12" stroke-linejoin="round"/>
<path d="M1311.3,368.7 L1345.3,368.7 L1328.3,404.0 Z" fill="#f4fff0" stroke="#f4fff0" stroke-width="7" stroke-linejoin="round"/>
<path d="M1311.3,368.7 L1345.3,368.7 L1328.3,404.0 Z" fill="#3e9b2b" stroke="#3e9b2b" stroke-width="1" stroke-linejoin="round"/>
<rect x="1326.3" y="371" width="4" height="19.5" fill="#f4fff0"/>
<rect x="1111.6" y="364.2" width="40.8" height="40.8" rx="5" fill="#fff" stroke="#262626" stroke-width="2.2"/>
<rect x="1114.8" y="367.4" width="34.4" height="34.4" rx="3" fill="#e2001a"/>
<rect x="1165.4" y="364.2" width="40.8" height="40.8" rx="5" fill="#fff" stroke="#262626" stroke-width="2.2"/>
<rect x="1168.6" y="367.4" width="34.4" height="34.4" rx="3" fill="#e2001a"/>
<path d="M1411.2,367.9 H1443.8 A4.5,4.5 0 0 1 1448.3,372.4 V403.7 A3.5,3.5 0 0 1 1444.8,407.2 H1440.4 A3.5,3.5 0 0 1 1436.9,403.7 V390.5 A10,10 0 0 0 1416.9,390.5 V403.7 A3.5,3.5 0 0 1 1413.4,407.2 H1410.2 A3.5,3.5 0 0 1 1406.7,403.7 V372.4 A4.5,4.5 0 0 1 1411.2,367.9 Z" fill="#ffd400" stroke="#222" stroke-width="2"/>
<g filter="url(#dsh)"><rect x="34.8" y="124.0" width="45.6" height="45.6" rx="6.5" fill="#fff" stroke="#e2001a" stroke-width="2.4"/></g>
<clipPath id="fc33"><rect x="36.9" y="126.1" width="41.4" height="41.4" rx="4.5"/></clipPath>
<g clip-path="url(#fc33)"><rect x="36.9" y="126.1" width="41.4" height="41.4" fill="#e2001a"/><path d="M42.52,126.55h4.27v4.27h-4.27zM52.88,126.55h4.27v4.27h-4.27zM63.23,126.55h4.27v4.27h-4.27zM73.58,126.55h4.27v4.27h-4.27zM37.35,131.72h4.27v4.27h-4.27zM47.70,131.72h4.27v4.27h-4.27zM58.05,131.72h4.27v4.27h-4.27zM68.40,131.72h4.27v4.27h-4.27zM42.52,136.90h4.27v4.27h-4.27zM52.88,136.90h4.27v4.27h-4.27zM63.23,136.90h4.27v4.27h-4.27zM73.58,136.90h4.27v4.27h-4.27zM37.35,142.07h4.27v4.27h-4.27zM47.70,142.07h4.27v4.27h-4.27zM58.05,142.07h4.27v4.27h-4.27zM68.40,142.07h4.27v4.27h-4.27zM42.52,147.25h4.27v4.27h-4.27zM52.88,147.25h4.27v4.27h-4.27zM63.23,147.25h4.27v4.27h-4.27zM73.58,147.25h4.27v4.27h-4.27zM37.35,152.42h4.27v4.27h-4.27zM47.70,152.42h4.27v4.27h-4.27zM58.05,152.42h4.27v4.27h-4.27zM68.40,152.42h4.27v4.27h-4.27zM42.52,157.60h4.27v4.27h-4.27zM52.88,157.60h4.27v4.27h-4.27zM63.23,157.60h4.27v4.27h-4.27zM73.58,157.60h4.27v4.27h-4.27zM37.35,162.77h4.27v4.27h-4.27zM47.70,162.77h4.27v4.27h-4.27zM58.05,162.77h4.27v4.27h-4.27zM68.40,162.77h4.27v4.27h-4.27z" fill="#fff"/></g>
<g filter="url(#dsh)"><rect x="1600.2" y="68.2" width="45.6" height="45.6" rx="6.5" fill="#fff" stroke="#1a1a1a" stroke-width="2.4"/></g>
<clipPath id="fc1599"><rect x="1602.3" y="70.3" width="41.4" height="41.4" rx="4.5"/></clipPath>
<g clip-path="url(#fc1599)"><rect x="1602.3" y="70.3" width="41.4" height="41.4" fill="#111"/><path d="M1607.92,70.75h4.27v4.27h-4.27zM1618.28,70.75h4.27v4.27h-4.27zM1628.62,70.75h4.27v4.27h-4.27zM1638.97,70.75h4.27v4.27h-4.27zM1602.75,75.92h4.27v4.27h-4.27zM1613.10,75.92h4.27v4.27h-4.27zM1623.45,75.92h4.27v4.27h-4.27zM1633.80,75.92h4.27v4.27h-4.27zM1607.92,81.10h4.27v4.27h-4.27zM1618.28,81.10h4.27v4.27h-4.27zM1628.62,81.10h4.27v4.27h-4.27zM1638.97,81.10h4.27v4.27h-4.27zM1602.75,86.27h4.27v4.27h-4.27zM1613.10,86.27h4.27v4.27h-4.27zM1623.45,86.27h4.27v4.27h-4.27zM1633.80,86.27h4.27v4.27h-4.27zM1607.92,91.45h4.27v4.27h-4.27zM1618.28,91.45h4.27v4.27h-4.27zM1628.62,91.45h4.27v4.27h-4.27zM1638.97,91.45h4.27v4.27h-4.27zM1602.75,96.62h4.27v4.27h-4.27zM1613.10,96.62h4.27v4.27h-4.27zM1623.45,96.62h4.27v4.27h-4.27zM1633.80,96.62h4.27v4.27h-4.27zM1607.92,101.80h4.27v4.27h-4.27zM1618.28,101.80h4.27v4.27h-4.27zM1628.62,101.80h4.27v4.27h-4.27zM1638.97,101.80h4.27v4.27h-4.27zM1602.75,106.98h4.27v4.27h-4.27zM1613.10,106.98h4.27v4.27h-4.27zM1623.45,106.98h4.27v4.27h-4.27zM1633.80,106.98h4.27v4.27h-4.27z" fill="#fff"/></g>
<text transform="translate(1640.50,742.00) rotate(-90) scale(0.7924,1)" x="-1.30" y="0" font-size="18.50" font-weight="bold" fill="#2a2a2a">m n.p.m.</text>
<text transform="translate(1631.60,772.50) scale(1.0889,1)" x="-1.05" y="0" font-size="15.00" font-weight="normal" fill="#222" stroke="#222" stroke-width="0.6">km</text>
</svg>
</body></html>
